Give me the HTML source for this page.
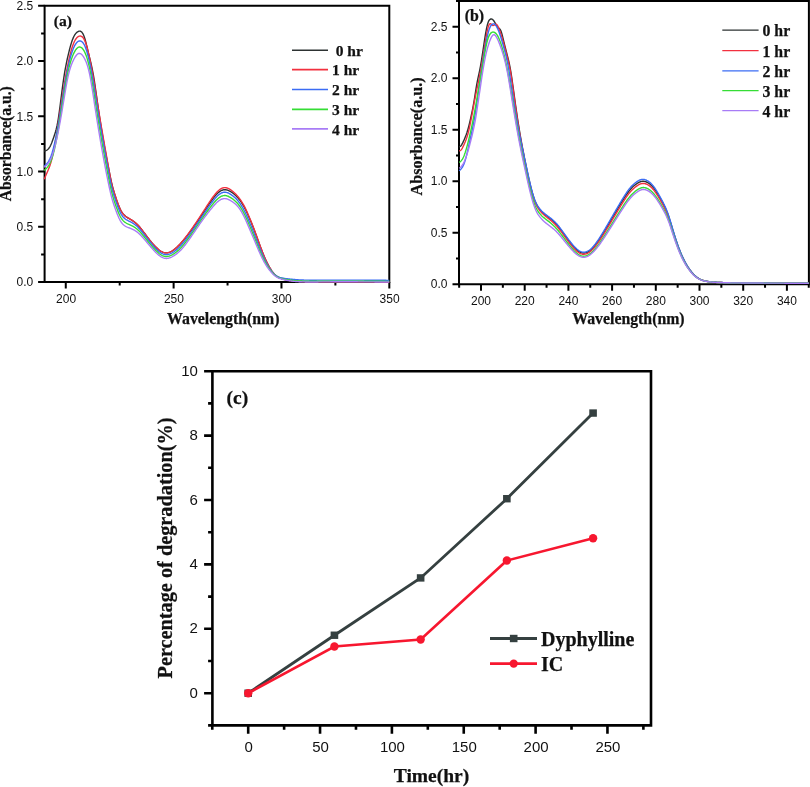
<!DOCTYPE html>
<html><head><meta charset="utf-8"><title>chart</title>
<style>html,body{margin:0;padding:0;background:#fff;} svg{display:block;will-change:transform;}</style></head>
<body><svg width="810" height="787" viewBox="0 0 810 787">
<rect width="810" height="787" fill="#fff"/>
<g stroke="#000" stroke-width="2" fill="none" stroke-linecap="square">
<path d="M44.6,5.8 H389.3 V282.1 H44.6 Z"/>
</g>
<path d="M38.10,282.10 H44.6 M41.10,254.48 H44.6 M38.10,226.85 H44.6 M41.10,199.23 H44.6 M38.10,171.60 H44.6 M41.10,143.98 H44.6 M38.10,116.35 H44.6 M41.10,88.73 H44.6 M38.10,61.10 H44.6 M41.10,33.48 H44.6 M38.10,5.85 H44.6 M65.77,282.1 V288.60 M119.70,282.1 V285.60 M173.62,282.1 V288.60 M227.55,282.1 V285.60 M281.47,282.1 V288.60 M335.39,282.1 V285.60 M389.32,282.1 V288.60" stroke="#000" stroke-width="2" fill="none"/>
<g font-family="Liberation Sans, sans-serif" font-size="12" fill="#111" text-anchor="end">
<text x="33.3" y="286.40">0.0</text>
<text x="33.3" y="231.15">0.5</text>
<text x="33.3" y="175.90">1.0</text>
<text x="33.3" y="120.65">1.5</text>
<text x="33.3" y="65.40">2.0</text>
<text x="33.3" y="10.15">2.5</text>
</g>
<g font-family="Liberation Sans, sans-serif" font-size="12" fill="#111" text-anchor="middle">
<text x="66.07" y="302.8">200</text>
<text x="173.92" y="302.8">250</text>
<text x="281.77" y="302.8">300</text>
<text x="389.62" y="302.8">350</text>
</g>
<text font-family="Liberation Serif, serif" font-weight="bold" stroke="#111" stroke-width="0.25" font-size="15.8" x="223.25" y="323.7" text-anchor="middle" fill="#111">Wavelength(nm)</text>
<text font-family="Liberation Serif, serif" font-weight="bold" stroke="#111" stroke-width="0.25" font-size="15.7" transform="translate(10.7,143.7) rotate(-90)" text-anchor="middle" fill="#111">Absorbance(a.u.)</text>
<text font-family="Liberation Serif, serif" font-weight="bold" stroke="#111" stroke-width="0.25" font-size="15.6" x="53.8" y="25.7" fill="#111">(a)</text>
<g fill="none" stroke-width="1.4" stroke-linejoin="round">
<path d="M44.20,151.14 L44.74,150.98 L45.28,150.81 L45.82,150.62 L46.36,150.38 L46.90,150.08 L47.44,149.71 L47.97,149.26 L48.51,148.71 L49.05,148.05 L49.59,147.26 L50.13,146.33 L50.67,145.26 L51.21,144.05 L51.75,142.73 L52.29,141.32 L52.83,139.83 L53.37,138.28 L53.91,136.69 L54.45,135.08 L54.98,133.42 L55.52,131.65 L56.06,129.72 L56.60,127.57 L57.14,125.15 L57.68,122.40 L58.22,119.26 L58.76,115.71 L59.30,111.82 L59.84,107.72 L60.38,103.50 L60.92,99.26 L61.46,95.03 L62.00,90.86 L62.53,86.78 L63.07,82.84 L63.61,79.08 L64.15,75.53 L64.69,72.23 L65.23,69.14 L65.77,66.26 L66.31,63.54 L66.85,60.96 L67.39,58.51 L67.93,56.15 L68.47,53.85 L69.01,51.63 L69.54,49.48 L70.08,47.42 L70.62,45.47 L71.16,43.63 L71.70,41.91 L72.24,40.34 L72.78,38.92 L73.32,37.64 L73.86,36.49 L74.40,35.48 L74.94,34.60 L75.48,33.83 L76.02,33.17 L76.56,32.62 L77.09,32.16 L77.63,31.79 L78.17,31.50 L78.71,31.30 L79.25,31.17 L79.79,31.15 L80.33,31.24 L80.87,31.47 L81.41,31.84 L81.95,32.37 L82.49,33.07 L83.03,33.97 L83.57,35.07 L84.10,36.39 L84.64,37.94 L85.18,39.73 L85.72,41.71 L86.26,43.85 L86.80,46.08 L87.34,48.38 L87.88,50.69 L88.42,52.97 L88.96,55.19 L89.50,57.37 L90.04,59.54 L90.58,61.75 L91.11,64.02 L91.65,66.40 L92.19,68.91 L92.73,71.59 L93.27,74.47 L93.81,77.60 L94.35,80.96 L94.89,84.52 L95.43,88.23 L95.97,92.05 L96.51,95.92 L97.05,99.81 L97.59,103.67 L98.12,107.44 L98.66,111.14 L99.20,114.75 L99.74,118.28 L100.28,121.73 L100.82,125.12 L101.36,128.44 L101.90,131.69 L102.44,134.88 L102.98,138.02 L103.52,141.11 L104.06,144.14 L104.60,147.14 L105.14,150.09 L105.67,153.00 L106.21,155.88 L106.75,158.73 L107.29,161.55 L107.83,164.35 L108.37,167.13 L108.91,169.90 L109.45,172.65 L109.99,175.36 L110.53,177.99 L111.07,180.48 L111.61,182.82 L112.15,185.03 L112.68,187.13 L113.22,189.12 L113.76,191.02 L114.30,192.85 L114.84,194.61 L115.38,196.33 L115.92,198.00 L116.46,199.63 L117.00,201.20 L117.54,202.72 L118.08,204.17 L118.62,205.55 L119.16,206.85 L119.70,208.07 L120.23,209.21 L120.77,210.25 L121.31,211.20 L121.85,212.07 L122.39,212.87 L122.93,213.59 L123.47,214.24 L124.01,214.83 L124.55,215.37 L125.09,215.86 L125.63,216.31 L126.17,216.72 L126.71,217.10 L127.24,217.46 L127.78,217.79 L128.32,218.11 L128.86,218.43 L129.40,218.74 L129.94,219.05 L130.48,219.37 L131.02,219.69 L131.56,220.03 L132.10,220.37 L132.64,220.73 L133.18,221.09 L133.72,221.48 L134.25,221.88 L134.79,222.29 L135.33,222.73 L135.87,223.18 L136.41,223.66 L136.95,224.16 L137.49,224.69 L138.03,225.24 L138.57,225.82 L139.11,226.42 L139.65,227.04 L140.19,227.68 L140.73,228.34 L141.26,229.01 L141.80,229.70 L142.34,230.40 L142.88,231.11 L143.42,231.83 L143.96,232.55 L144.50,233.27 L145.04,234.00 L145.58,234.72 L146.12,235.44 L146.66,236.16 L147.20,236.88 L147.74,237.58 L148.28,238.29 L148.81,238.98 L149.35,239.67 L149.89,240.35 L150.43,241.02 L150.97,241.68 L151.51,242.33 L152.05,242.97 L152.59,243.60 L153.13,244.22 L153.67,244.82 L154.21,245.41 L154.75,245.98 L155.29,246.54 L155.82,247.08 L156.36,247.61 L156.90,248.12 L157.44,248.61 L157.98,249.08 L158.52,249.52 L159.06,249.95 L159.60,250.35 L160.14,250.73 L160.68,251.08 L161.22,251.40 L161.76,251.69 L162.30,251.96 L162.84,252.19 L163.37,252.39 L163.91,252.56 L164.45,252.69 L164.99,252.79 L165.53,252.85 L166.07,252.87 L166.61,252.86 L167.15,252.81 L167.69,252.73 L168.23,252.62 L168.77,252.48 L169.31,252.31 L169.85,252.11 L170.38,251.88 L170.92,251.62 L171.46,251.34 L172.00,251.04 L172.54,250.71 L173.08,250.36 L173.62,249.98 L174.16,249.59 L174.70,249.18 L175.24,248.74 L175.78,248.29 L176.32,247.82 L176.86,247.34 L177.39,246.83 L177.93,246.32 L178.47,245.78 L179.01,245.24 L179.55,244.68 L180.09,244.11 L180.63,243.53 L181.17,242.93 L181.71,242.33 L182.25,241.71 L182.79,241.09 L183.33,240.45 L183.87,239.81 L184.41,239.15 L184.94,238.49 L185.48,237.82 L186.02,237.14 L186.56,236.45 L187.10,235.76 L187.64,235.06 L188.18,234.35 L188.72,233.64 L189.26,232.92 L189.80,232.20 L190.34,231.47 L190.88,230.73 L191.42,229.99 L191.95,229.25 L192.49,228.50 L193.03,227.75 L193.57,227.00 L194.11,226.24 L194.65,225.47 L195.19,224.70 L195.73,223.93 L196.27,223.15 L196.81,222.37 L197.35,221.59 L197.89,220.80 L198.43,220.01 L198.96,219.22 L199.50,218.42 L200.04,217.62 L200.58,216.82 L201.12,216.01 L201.66,215.20 L202.20,214.39 L202.74,213.58 L203.28,212.76 L203.82,211.94 L204.36,211.12 L204.90,210.30 L205.44,209.48 L205.98,208.67 L206.51,207.85 L207.05,207.04 L207.59,206.23 L208.13,205.43 L208.67,204.64 L209.21,203.85 L209.75,203.07 L210.29,202.29 L210.83,201.53 L211.37,200.77 L211.91,200.03 L212.45,199.30 L212.99,198.58 L213.52,197.88 L214.06,197.19 L214.60,196.52 L215.14,195.87 L215.68,195.24 L216.22,194.64 L216.76,194.07 L217.30,193.52 L217.84,193.01 L218.38,192.53 L218.92,192.09 L219.46,191.68 L220.00,191.32 L220.53,190.99 L221.07,190.69 L221.61,190.44 L222.15,190.22 L222.69,190.05 L223.23,189.91 L223.77,189.81 L224.31,189.74 L224.85,189.72 L225.39,189.73 L225.93,189.78 L226.47,189.87 L227.01,190.00 L227.55,190.16 L228.08,190.35 L228.62,190.57 L229.16,190.81 L229.70,191.09 L230.24,191.39 L230.78,191.71 L231.32,192.05 L231.86,192.42 L232.40,192.80 L232.94,193.20 L233.48,193.62 L234.02,194.06 L234.56,194.52 L235.09,195.00 L235.63,195.51 L236.17,196.03 L236.71,196.58 L237.25,197.16 L237.79,197.76 L238.33,198.38 L238.87,199.03 L239.41,199.70 L239.95,200.41 L240.49,201.14 L241.03,201.90 L241.57,202.70 L242.10,203.52 L242.64,204.38 L243.18,205.28 L243.72,206.21 L244.26,207.18 L244.80,208.18 L245.34,209.23 L245.88,210.31 L246.42,211.42 L246.96,212.57 L247.50,213.74 L248.04,214.94 L248.58,216.16 L249.12,217.41 L249.65,218.67 L250.19,219.95 L250.73,221.25 L251.27,222.56 L251.81,223.88 L252.35,225.22 L252.89,226.58 L253.43,227.96 L253.97,229.35 L254.51,230.77 L255.05,232.20 L255.59,233.65 L256.13,235.11 L256.66,236.58 L257.20,238.07 L257.74,239.55 L258.28,241.04 L258.82,242.52 L259.36,244.00 L259.90,245.47 L260.44,246.93 L260.98,248.37 L261.52,249.79 L262.06,251.19 L262.60,252.57 L263.14,253.92 L263.67,255.24 L264.21,256.53 L264.75,257.78 L265.29,259.00 L265.83,260.18 L266.37,261.33 L266.91,262.44 L267.45,263.52 L267.99,264.56 L268.53,265.57 L269.07,266.54 L269.61,267.48 L270.15,268.38 L270.69,269.24 L271.22,270.07 L271.76,270.87 L272.30,271.62 L272.84,272.33 L273.38,273.01 L273.92,273.64 L274.46,274.23 L275.00,274.78 L275.54,275.28 L276.08,275.74 L276.62,276.16 L277.16,276.55 L277.70,276.90 L278.23,277.22 L278.77,277.52 L279.31,277.78 L279.85,278.02 L280.39,278.25 L280.93,278.45 L281.47,278.64 L282.01,278.81 L282.55,278.97 L283.09,279.13 L283.63,279.28 L284.17,279.42 L284.71,279.55 L285.24,279.68 L285.78,279.80 L286.32,279.92 L286.86,280.03 L287.40,280.14 L287.94,280.24 L288.48,280.33 L289.02,280.42 L289.56,280.50 L290.10,280.58 L290.64,280.66 L291.18,280.73 L291.72,280.80 L292.25,280.86 L292.79,280.93 L293.33,280.98 L293.87,281.04 L294.41,281.09 L294.95,281.14 L295.49,281.18 L296.03,281.23 L296.57,281.27 L297.11,281.31 L297.65,281.35 L298.19,281.38 L298.73,281.41 L299.27,281.45 L299.80,281.48 L300.34,281.51 L300.88,281.53 L301.42,281.56 L301.96,281.58 L302.50,281.60 L303.04,281.62 L303.58,281.64 L304.12,281.66 L304.66,281.67 L305.20,281.69 L305.74,281.70 L306.28,281.71 L306.81,281.73 L307.35,281.74 L307.89,281.74 L308.43,281.75 L308.97,281.76 L309.51,281.76 L310.05,281.77 L310.59,281.77 L311.13,281.78 L311.67,281.78 L312.21,281.78 L312.75,281.78 L313.29,281.78 L313.82,281.79 L314.36,281.79 L314.90,281.78 L315.44,281.78 L315.98,281.78 L316.52,281.78 L317.06,281.78 L317.60,281.78 L318.14,281.78 L318.68,281.77 L319.22,281.77 L319.76,281.77 L320.30,281.77 L320.84,281.77 L321.37,281.76 L321.91,281.76 L322.45,281.76 L322.99,281.76 L323.53,281.76 L324.07,281.76 L324.61,281.75 L325.15,281.75 L325.69,281.75 L326.23,281.75 L326.77,281.75 L327.31,281.75 L327.85,281.75 L328.38,281.75 L328.92,281.75 L329.46,281.75 L330.00,281.75 L330.54,281.75 L331.08,281.75 L331.62,281.74 L332.16,281.74 L332.70,281.74 L333.24,281.74 L333.78,281.74 L334.32,281.74 L334.86,281.74 L335.39,281.74 L335.93,281.74 L336.47,281.75 L337.01,281.75 L337.55,281.75 L338.09,281.75 L338.63,281.75 L339.17,281.75 L339.71,281.75 L340.25,281.75 L340.79,281.75 L341.33,281.75 L341.87,281.75 L342.41,281.75 L342.94,281.75 L343.48,281.76 L344.02,281.76 L344.56,281.76 L345.10,281.76 L345.64,281.76 L346.18,281.76 L346.72,281.76 L347.26,281.76 L347.80,281.77 L348.34,281.77 L348.88,281.77 L349.42,281.77 L349.95,281.77 L350.49,281.77 L351.03,281.78 L351.57,281.78 L352.11,281.78 L352.65,281.78 L353.19,281.78 L353.73,281.79 L354.27,281.79 L354.81,281.79 L355.35,281.79 L355.89,281.80 L356.43,281.80 L356.96,281.80 L357.50,281.80 L358.04,281.80 L358.58,281.81 L359.12,281.81 L359.66,281.81 L360.20,281.81 L360.74,281.82 L361.28,281.82 L361.82,281.82 L362.36,281.83 L362.90,281.83 L363.44,281.83 L363.98,281.83 L364.51,281.84 L365.05,281.84 L365.59,281.84 L366.13,281.85 L366.67,281.85 L367.21,281.85 L367.75,281.85 L368.29,281.86 L368.83,281.86 L369.37,281.86 L369.91,281.87 L370.45,281.87 L370.99,281.87 L371.52,281.88 L372.06,281.88 L372.60,281.88 L373.14,281.89 L373.68,281.89 L374.22,281.89 L374.76,281.90 L375.30,281.90 L375.84,281.90 L376.38,281.91 L376.92,281.91 L377.46,281.91 L378.00,281.92 L378.53,281.92 L379.07,281.92 L379.61,281.93 L380.15,281.93 L380.69,281.93 L381.23,281.94 L381.77,281.94 L382.31,281.94 L382.85,281.95 L383.39,281.95 L383.93,281.95 L384.47,281.96 L385.01,281.96 L385.55,281.96 L386.08,281.97 L386.62,281.97 L387.16,281.98 L387.70,281.98 L388.24,281.98 L388.78,281.99 L389.32,281.99" stroke="#2d3232"/>
<path d="M44.20,179.33 L44.74,178.08 L45.28,176.82 L45.82,175.56 L46.36,174.30 L46.90,173.04 L47.44,171.78 L47.97,170.52 L48.51,169.23 L49.05,167.88 L49.59,166.45 L50.13,164.90 L50.67,163.21 L51.21,161.34 L51.75,159.29 L52.29,157.06 L52.83,154.66 L53.37,152.10 L53.91,149.40 L54.45,146.56 L54.98,143.59 L55.52,140.51 L56.06,137.33 L56.60,134.07 L57.14,130.72 L57.68,127.30 L58.22,123.83 L58.76,120.32 L59.30,116.77 L59.84,113.20 L60.38,109.62 L60.92,106.04 L61.46,102.47 L62.00,98.92 L62.53,95.41 L63.07,91.94 L63.61,88.53 L64.15,85.19 L64.69,81.93 L65.23,78.75 L65.77,75.67 L66.31,72.68 L66.85,69.80 L67.39,67.01 L67.93,64.32 L68.47,61.75 L69.01,59.28 L69.54,56.93 L70.08,54.69 L70.62,52.57 L71.16,50.59 L71.70,48.73 L72.24,47.00 L72.78,45.42 L73.32,43.98 L73.86,42.67 L74.40,41.50 L74.94,40.46 L75.48,39.55 L76.02,38.75 L76.56,38.06 L77.09,37.49 L77.63,37.02 L78.17,36.65 L78.71,36.37 L79.25,36.18 L79.79,36.07 L80.33,36.06 L80.87,36.14 L81.41,36.34 L81.95,36.65 L82.49,37.10 L83.03,37.68 L83.57,38.42 L84.10,39.32 L84.64,40.38 L85.18,41.63 L85.72,43.07 L86.26,44.70 L86.80,46.51 L87.34,48.48 L87.88,50.59 L88.42,52.84 L88.96,55.21 L89.50,57.68 L90.04,60.23 L90.58,62.87 L91.11,65.58 L91.65,68.37 L92.19,71.24 L92.73,74.19 L93.27,77.23 L93.81,80.36 L94.35,83.58 L94.89,86.88 L95.43,90.25 L95.97,93.65 L96.51,97.08 L97.05,100.51 L97.59,103.92 L98.12,107.29 L98.66,110.63 L99.20,113.92 L99.74,117.17 L100.28,120.39 L100.82,123.58 L101.36,126.75 L101.90,129.88 L102.44,132.99 L102.98,136.08 L103.52,139.16 L104.06,142.21 L104.60,145.26 L105.14,148.29 L105.67,151.32 L106.21,154.33 L106.75,157.35 L107.29,160.37 L107.83,163.39 L108.37,166.41 L108.91,169.44 L109.45,172.48 L109.99,175.48 L110.53,178.34 L111.07,180.97 L111.61,183.37 L112.15,185.56 L112.68,187.58 L113.22,189.46 L113.76,191.22 L114.30,192.91 L114.84,194.55 L115.38,196.17 L115.92,197.78 L116.46,199.39 L117.00,200.96 L117.54,202.50 L118.08,204.00 L118.62,205.43 L119.16,206.80 L119.70,208.08 L120.23,209.27 L120.77,210.36 L121.31,211.35 L121.85,212.24 L122.39,213.05 L122.93,213.78 L123.47,214.43 L124.01,215.02 L124.55,215.55 L125.09,216.02 L125.63,216.45 L126.17,216.84 L126.71,217.19 L127.24,217.52 L127.78,217.83 L128.32,218.13 L128.86,218.42 L129.40,218.71 L129.94,219.01 L130.48,219.31 L131.02,219.63 L131.56,219.96 L132.10,220.30 L132.64,220.65 L133.18,221.02 L133.72,221.41 L134.25,221.81 L134.79,222.23 L135.33,222.67 L135.87,223.14 L136.41,223.62 L136.95,224.13 L137.49,224.66 L138.03,225.22 L138.57,225.80 L139.11,226.41 L139.65,227.04 L140.19,227.68 L140.73,228.34 L141.26,229.02 L141.80,229.71 L142.34,230.41 L142.88,231.12 L143.42,231.83 L143.96,232.56 L144.50,233.28 L145.04,234.01 L145.58,234.73 L146.12,235.45 L146.66,236.17 L147.20,236.88 L147.74,237.59 L148.28,238.29 L148.81,238.98 L149.35,239.67 L149.89,240.35 L150.43,241.02 L150.97,241.68 L151.51,242.33 L152.05,242.97 L152.59,243.59 L153.13,244.21 L153.67,244.81 L154.21,245.40 L154.75,245.97 L155.29,246.53 L155.82,247.08 L156.36,247.61 L156.90,248.12 L157.44,248.61 L157.98,249.08 L158.52,249.53 L159.06,249.96 L159.60,250.36 L160.14,250.74 L160.68,251.10 L161.22,251.42 L161.76,251.71 L162.30,251.98 L162.84,252.21 L163.37,252.41 L163.91,252.58 L164.45,252.71 L164.99,252.80 L165.53,252.86 L166.07,252.88 L166.61,252.86 L167.15,252.80 L167.69,252.72 L168.23,252.60 L168.77,252.45 L169.31,252.27 L169.85,252.06 L170.38,251.82 L170.92,251.55 L171.46,251.26 L172.00,250.95 L172.54,250.61 L173.08,250.24 L173.62,249.86 L174.16,249.46 L174.70,249.03 L175.24,248.59 L175.78,248.13 L176.32,247.65 L176.86,247.15 L177.39,246.64 L177.93,246.11 L178.47,245.57 L179.01,245.01 L179.55,244.44 L180.09,243.86 L180.63,243.26 L181.17,242.65 L181.71,242.03 L182.25,241.41 L182.79,240.77 L183.33,240.12 L183.87,239.45 L184.41,238.79 L184.94,238.11 L185.48,237.42 L186.02,236.72 L186.56,236.02 L187.10,235.31 L187.64,234.59 L188.18,233.86 L188.72,233.13 L189.26,232.39 L189.80,231.65 L190.34,230.90 L190.88,230.15 L191.42,229.39 L191.95,228.62 L192.49,227.85 L193.03,227.08 L193.57,226.30 L194.11,225.52 L194.65,224.73 L195.19,223.94 L195.73,223.14 L196.27,222.35 L196.81,221.54 L197.35,220.73 L197.89,219.92 L198.43,219.11 L198.96,218.29 L199.50,217.47 L200.04,216.65 L200.58,215.82 L201.12,214.99 L201.66,214.15 L202.20,213.32 L202.74,212.48 L203.28,211.63 L203.82,210.79 L204.36,209.95 L204.90,209.10 L205.44,208.26 L205.98,207.42 L206.51,206.58 L207.05,205.74 L207.59,204.91 L208.13,204.08 L208.67,203.26 L209.21,202.45 L209.75,201.64 L210.29,200.84 L210.83,200.05 L211.37,199.27 L211.91,198.51 L212.45,197.75 L212.99,197.00 L213.52,196.27 L214.06,195.56 L214.60,194.86 L215.14,194.19 L215.68,193.53 L216.22,192.90 L216.76,192.30 L217.30,191.73 L217.84,191.19 L218.38,190.68 L218.92,190.21 L219.46,189.78 L220.00,189.38 L220.53,189.02 L221.07,188.70 L221.61,188.42 L222.15,188.18 L222.69,187.99 L223.23,187.83 L223.77,187.72 L224.31,187.65 L224.85,187.62 L225.39,187.64 L225.93,187.71 L226.47,187.81 L227.01,187.96 L227.55,188.14 L228.08,188.36 L228.62,188.62 L229.16,188.90 L229.70,189.21 L230.24,189.55 L230.78,189.91 L231.32,190.29 L231.86,190.70 L232.40,191.11 L232.94,191.55 L233.48,192.00 L234.02,192.48 L234.56,192.97 L235.09,193.48 L235.63,194.02 L236.17,194.57 L236.71,195.15 L237.25,195.75 L237.79,196.37 L238.33,197.03 L238.87,197.70 L239.41,198.40 L239.95,199.13 L240.49,199.89 L241.03,200.69 L241.57,201.51 L242.10,202.36 L242.64,203.25 L243.18,204.18 L243.72,205.14 L244.26,206.15 L244.80,207.19 L245.34,208.27 L245.88,209.39 L246.42,210.54 L246.96,211.72 L247.50,212.93 L248.04,214.17 L248.58,215.43 L249.12,216.71 L249.65,218.00 L250.19,219.31 L250.73,220.63 L251.27,221.96 L251.81,223.31 L252.35,224.67 L252.89,226.05 L253.43,227.44 L253.97,228.85 L254.51,230.28 L255.05,231.73 L255.59,233.20 L256.13,234.69 L256.66,236.19 L257.20,237.69 L257.74,239.20 L258.28,240.71 L258.82,242.22 L259.36,243.72 L259.90,245.21 L260.44,246.69 L260.98,248.15 L261.52,249.59 L262.06,251.01 L262.60,252.41 L263.14,253.77 L263.67,255.11 L264.21,256.40 L264.75,257.67 L265.29,258.89 L265.83,260.08 L266.37,261.23 L266.91,262.35 L267.45,263.43 L267.99,264.48 L268.53,265.49 L269.07,266.47 L269.61,267.41 L270.15,268.32 L270.69,269.20 L271.22,270.03 L271.76,270.83 L272.30,271.59 L272.84,272.32 L273.38,273.00 L273.92,273.64 L274.46,274.23 L275.00,274.78 L275.54,275.29 L276.08,275.75 L276.62,276.18 L277.16,276.56 L277.70,276.91 L278.23,277.23 L278.77,277.52 L279.31,277.79 L279.85,278.03 L280.39,278.24 L280.93,278.44 L281.47,278.63 L282.01,278.80 L282.55,278.96 L283.09,279.11 L283.63,279.26 L284.17,279.40 L284.71,279.53 L285.24,279.66 L285.78,279.78 L286.32,279.90 L286.86,280.01 L287.40,280.11 L287.94,280.21 L288.48,280.31 L289.02,280.40 L289.56,280.48 L290.10,280.57 L290.64,280.64 L291.18,280.72 L291.72,280.79 L292.25,280.85 L292.79,280.91 L293.33,280.97 L293.87,281.03 L294.41,281.08 L294.95,281.13 L295.49,281.18 L296.03,281.23 L296.57,281.27 L297.11,281.31 L297.65,281.35 L298.19,281.39 L298.73,281.42 L299.27,281.45 L299.80,281.48 L300.34,281.51 L300.88,281.54 L301.42,281.57 L301.96,281.59 L302.50,281.61 L303.04,281.63 L303.58,281.65 L304.12,281.67 L304.66,281.69 L305.20,281.70 L305.74,281.71 L306.28,281.73 L306.81,281.74 L307.35,281.75 L307.89,281.76 L308.43,281.76 L308.97,281.77 L309.51,281.78 L310.05,281.78 L310.59,281.78 L311.13,281.79 L311.67,281.79 L312.21,281.79 L312.75,281.79 L313.29,281.79 L313.82,281.79 L314.36,281.79 L314.90,281.79 L315.44,281.79 L315.98,281.79 L316.52,281.78 L317.06,281.78 L317.60,281.78 L318.14,281.78 L318.68,281.77 L319.22,281.77 L319.76,281.77 L320.30,281.77 L320.84,281.76 L321.37,281.76 L321.91,281.76 L322.45,281.76 L322.99,281.76 L323.53,281.75 L324.07,281.75 L324.61,281.75 L325.15,281.75 L325.69,281.75 L326.23,281.75 L326.77,281.74 L327.31,281.74 L327.85,281.74 L328.38,281.74 L328.92,281.74 L329.46,281.74 L330.00,281.74 L330.54,281.74 L331.08,281.74 L331.62,281.73 L332.16,281.73 L332.70,281.73 L333.24,281.73 L333.78,281.73 L334.32,281.73 L334.86,281.73 L335.39,281.73 L335.93,281.73 L336.47,281.73 L337.01,281.73 L337.55,281.73 L338.09,281.73 L338.63,281.73 L339.17,281.73 L339.71,281.74 L340.25,281.74 L340.79,281.74 L341.33,281.74 L341.87,281.74 L342.41,281.74 L342.94,281.74 L343.48,281.74 L344.02,281.74 L344.56,281.74 L345.10,281.74 L345.64,281.75 L346.18,281.75 L346.72,281.75 L347.26,281.75 L347.80,281.75 L348.34,281.75 L348.88,281.75 L349.42,281.76 L349.95,281.76 L350.49,281.76 L351.03,281.76 L351.57,281.76 L352.11,281.77 L352.65,281.77 L353.19,281.77 L353.73,281.77 L354.27,281.77 L354.81,281.78 L355.35,281.78 L355.89,281.78 L356.43,281.78 L356.96,281.79 L357.50,281.79 L358.04,281.79 L358.58,281.79 L359.12,281.80 L359.66,281.80 L360.20,281.80 L360.74,281.80 L361.28,281.81 L361.82,281.81 L362.36,281.81 L362.90,281.82 L363.44,281.82 L363.98,281.82 L364.51,281.82 L365.05,281.83 L365.59,281.83 L366.13,281.83 L366.67,281.84 L367.21,281.84 L367.75,281.84 L368.29,281.85 L368.83,281.85 L369.37,281.85 L369.91,281.86 L370.45,281.86 L370.99,281.86 L371.52,281.87 L372.06,281.87 L372.60,281.87 L373.14,281.88 L373.68,281.88 L374.22,281.88 L374.76,281.89 L375.30,281.89 L375.84,281.89 L376.38,281.90 L376.92,281.90 L377.46,281.91 L378.00,281.91 L378.53,281.91 L379.07,281.92 L379.61,281.92 L380.15,281.92 L380.69,281.93 L381.23,281.93 L381.77,281.94 L382.31,281.94 L382.85,281.94 L383.39,281.95 L383.93,281.95 L384.47,281.95 L385.01,281.96 L385.55,281.96 L386.08,281.97 L386.62,281.97 L387.16,281.97 L387.70,281.98 L388.24,281.98 L388.78,281.99 L389.32,281.99" stroke="#f2303f"/>
<path d="M44.20,166.15 L44.74,165.67 L45.28,165.17 L45.82,164.65 L46.36,164.10 L46.90,163.49 L47.44,162.83 L47.97,162.09 L48.51,161.27 L49.05,160.36 L49.59,159.33 L50.13,158.19 L50.67,156.92 L51.21,155.50 L51.75,153.93 L52.29,152.22 L52.83,150.36 L53.37,148.37 L53.91,146.25 L54.45,144.01 L54.98,141.64 L55.52,139.17 L56.06,136.58 L56.60,133.90 L57.14,131.11 L57.68,128.23 L58.22,125.26 L58.76,122.20 L59.30,119.06 L59.84,115.85 L60.38,112.56 L60.92,109.21 L61.46,105.81 L62.00,102.39 L62.53,98.96 L63.07,95.55 L63.61,92.17 L64.15,88.84 L64.69,85.57 L65.23,82.37 L65.77,79.27 L66.31,76.26 L66.85,73.36 L67.39,70.58 L67.93,67.92 L68.47,65.39 L69.01,63.00 L69.54,60.74 L70.08,58.62 L70.62,56.62 L71.16,54.76 L71.70,53.03 L72.24,51.42 L72.78,49.93 L73.32,48.57 L73.86,47.33 L74.40,46.20 L74.94,45.19 L75.48,44.29 L76.02,43.50 L76.56,42.82 L77.09,42.25 L77.63,41.78 L78.17,41.42 L78.71,41.15 L79.25,40.98 L79.79,40.92 L80.33,40.95 L80.87,41.10 L81.41,41.35 L81.95,41.72 L82.49,42.21 L83.03,42.83 L83.57,43.59 L84.10,44.50 L84.64,45.55 L85.18,46.76 L85.72,48.13 L86.26,49.67 L86.80,51.36 L87.34,53.22 L87.88,55.23 L88.42,57.39 L88.96,59.70 L89.50,62.15 L90.04,64.72 L90.58,67.41 L91.11,70.22 L91.65,73.13 L92.19,76.14 L92.73,79.24 L93.27,82.42 L93.81,85.68 L94.35,88.99 L94.89,92.35 L95.43,95.75 L95.97,99.17 L96.51,102.59 L97.05,106.00 L97.59,109.39 L98.12,112.76 L98.66,116.09 L99.20,119.38 L99.74,122.63 L100.28,125.85 L100.82,129.03 L101.36,132.18 L101.90,135.29 L102.44,138.38 L102.98,141.44 L103.52,144.48 L104.06,147.49 L104.60,150.49 L105.14,153.47 L105.67,156.44 L106.21,159.40 L106.75,162.35 L107.29,165.30 L107.83,168.23 L108.37,171.15 L108.91,174.03 L109.45,176.87 L109.99,179.61 L110.53,182.24 L111.07,184.74 L111.61,187.07 L112.15,189.24 L112.68,191.27 L113.22,193.16 L113.76,194.95 L114.30,196.65 L114.84,198.29 L115.38,199.89 L115.92,201.45 L116.46,202.99 L117.00,204.50 L117.54,205.96 L118.08,207.38 L118.62,208.75 L119.16,210.04 L119.70,211.26 L120.23,212.39 L120.77,213.43 L121.31,214.37 L121.85,215.23 L122.39,216.01 L122.93,216.70 L123.47,217.33 L124.01,217.88 L124.55,218.38 L125.09,218.82 L125.63,219.22 L126.17,219.58 L126.71,219.91 L127.24,220.22 L127.78,220.50 L128.32,220.78 L128.86,221.05 L129.40,221.31 L129.94,221.59 L130.48,221.86 L131.02,222.15 L131.56,222.45 L132.10,222.76 L132.64,223.08 L133.18,223.42 L133.72,223.78 L134.25,224.15 L134.79,224.54 L135.33,224.95 L135.87,225.38 L136.41,225.84 L136.95,226.31 L137.49,226.81 L138.03,227.34 L138.57,227.89 L139.11,228.46 L139.65,229.05 L140.19,229.66 L140.73,230.29 L141.26,230.93 L141.80,231.59 L142.34,232.26 L142.88,232.94 L143.42,233.63 L143.96,234.32 L144.50,235.02 L145.04,235.72 L145.58,236.42 L146.12,237.12 L146.66,237.81 L147.20,238.51 L147.74,239.20 L148.28,239.88 L148.81,240.56 L149.35,241.24 L149.89,241.90 L150.43,242.56 L150.97,243.22 L151.51,243.86 L152.05,244.50 L152.59,245.12 L153.13,245.74 L153.67,246.35 L154.21,246.94 L154.75,247.52 L155.29,248.09 L155.82,248.65 L156.36,249.18 L156.90,249.70 L157.44,250.20 L157.98,250.69 L158.52,251.15 L159.06,251.59 L159.60,252.00 L160.14,252.39 L160.68,252.76 L161.22,253.09 L161.76,253.40 L162.30,253.68 L162.84,253.93 L163.37,254.14 L163.91,254.31 L164.45,254.46 L164.99,254.56 L165.53,254.63 L166.07,254.66 L166.61,254.66 L167.15,254.62 L167.69,254.54 L168.23,254.44 L168.77,254.30 L169.31,254.14 L169.85,253.95 L170.38,253.73 L170.92,253.48 L171.46,253.21 L172.00,252.92 L172.54,252.61 L173.08,252.28 L173.62,251.93 L174.16,251.56 L174.70,251.17 L175.24,250.77 L175.78,250.35 L176.32,249.91 L176.86,249.45 L177.39,248.98 L177.93,248.49 L178.47,247.99 L179.01,247.47 L179.55,246.93 L180.09,246.38 L180.63,245.81 L181.17,245.23 L181.71,244.64 L182.25,244.03 L182.79,243.40 L183.33,242.77 L183.87,242.12 L184.41,241.46 L184.94,240.79 L185.48,240.11 L186.02,239.41 L186.56,238.71 L187.10,238.01 L187.64,237.29 L188.18,236.57 L188.72,235.84 L189.26,235.10 L189.80,234.36 L190.34,233.61 L190.88,232.86 L191.42,232.10 L191.95,231.34 L192.49,230.58 L193.03,229.81 L193.57,229.04 L194.11,228.27 L194.65,227.49 L195.19,226.71 L195.73,225.93 L196.27,225.15 L196.81,224.36 L197.35,223.57 L197.89,222.79 L198.43,221.99 L198.96,221.20 L199.50,220.40 L200.04,219.61 L200.58,218.80 L201.12,218.00 L201.66,217.20 L202.20,216.39 L202.74,215.59 L203.28,214.78 L203.82,213.98 L204.36,213.18 L204.90,212.38 L205.44,211.59 L205.98,210.80 L206.51,210.01 L207.05,209.23 L207.59,208.45 L208.13,207.68 L208.67,206.91 L209.21,206.15 L209.75,205.40 L210.29,204.65 L210.83,203.91 L211.37,203.18 L211.91,202.46 L212.45,201.75 L212.99,201.05 L213.52,200.37 L214.06,199.70 L214.60,199.04 L215.14,198.40 L215.68,197.79 L216.22,197.19 L216.76,196.62 L217.30,196.08 L217.84,195.57 L218.38,195.09 L218.92,194.65 L219.46,194.23 L220.00,193.86 L220.53,193.52 L221.07,193.22 L221.61,192.96 L222.15,192.74 L222.69,192.55 L223.23,192.41 L223.77,192.31 L224.31,192.25 L224.85,192.24 L225.39,192.26 L225.93,192.33 L226.47,192.43 L227.01,192.58 L227.55,192.76 L228.08,192.97 L228.62,193.22 L229.16,193.49 L229.70,193.79 L230.24,194.11 L230.78,194.45 L231.32,194.81 L231.86,195.19 L232.40,195.59 L232.94,196.00 L233.48,196.42 L234.02,196.87 L234.56,197.33 L235.09,197.82 L235.63,198.33 L236.17,198.86 L236.71,199.42 L237.25,200.01 L237.79,200.63 L238.33,201.28 L238.87,201.96 L239.41,202.68 L239.95,203.42 L240.49,204.21 L241.03,205.03 L241.57,205.88 L242.10,206.77 L242.64,207.70 L243.18,208.67 L243.72,209.67 L244.26,210.71 L244.80,211.78 L245.34,212.89 L245.88,214.03 L246.42,215.20 L246.96,216.40 L247.50,217.62 L248.04,218.86 L248.58,220.12 L249.12,221.39 L249.65,222.68 L250.19,223.97 L250.73,225.27 L251.27,226.57 L251.81,227.89 L252.35,229.21 L252.89,230.54 L253.43,231.89 L253.97,233.24 L254.51,234.61 L255.05,235.99 L255.59,237.39 L256.13,238.79 L256.66,240.20 L257.20,241.62 L257.74,243.03 L258.28,244.44 L258.82,245.84 L259.36,247.23 L259.90,248.59 L260.44,249.94 L260.98,251.26 L261.52,252.56 L262.06,253.83 L262.60,255.08 L263.14,256.29 L263.67,257.48 L264.21,258.64 L264.75,259.76 L265.29,260.85 L265.83,261.91 L266.37,262.94 L266.91,263.93 L267.45,264.89 L267.99,265.81 L268.53,266.71 L269.07,267.56 L269.61,268.39 L270.15,269.19 L270.69,269.95 L271.22,270.68 L271.76,271.37 L272.30,272.03 L272.84,272.66 L273.38,273.24 L273.92,273.79 L274.46,274.30 L275.00,274.76 L275.54,275.19 L276.08,275.58 L276.62,275.93 L277.16,276.25 L277.70,276.53 L278.23,276.79 L278.77,277.01 L279.31,277.21 L279.85,277.40 L280.39,277.56 L280.93,277.70 L281.47,277.83 L282.01,277.95 L282.55,278.06 L283.09,278.16 L283.63,278.26 L284.17,278.35 L284.71,278.43 L285.24,278.52 L285.78,278.59 L286.32,278.67 L286.86,278.74 L287.40,278.80 L287.94,278.87 L288.48,278.93 L289.02,278.99 L289.56,279.04 L290.10,279.10 L290.64,279.15 L291.18,279.20 L291.72,279.25 L292.25,279.30 L292.79,279.35 L293.33,279.40 L293.87,279.45 L294.41,279.51 L294.95,279.56 L295.49,279.60 L296.03,279.65 L296.57,279.69 L297.11,279.73 L297.65,279.77 L298.19,279.81 L298.73,279.84 L299.27,279.87 L299.80,279.90 L300.34,279.93 L300.88,279.96 L301.42,279.98 L301.96,280.01 L302.50,280.03 L303.04,280.05 L303.58,280.07 L304.12,280.08 L304.66,280.10 L305.20,280.11 L305.74,280.12 L306.28,280.14 L306.81,280.15 L307.35,280.15 L307.89,280.16 L308.43,280.17 L308.97,280.17 L309.51,280.18 L310.05,280.18 L310.59,280.19 L311.13,280.19 L311.67,280.19 L312.21,280.19 L312.75,280.19 L313.29,280.19 L313.82,280.19 L314.36,280.19 L314.90,280.18 L315.44,280.18 L315.98,280.18 L316.52,280.18 L317.06,280.17 L317.60,280.17 L318.14,280.16 L318.68,280.16 L319.22,280.16 L319.76,280.15 L320.30,280.15 L320.84,280.15 L321.37,280.14 L321.91,280.14 L322.45,280.14 L322.99,280.13 L323.53,280.13 L324.07,280.13 L324.61,280.13 L325.15,280.12 L325.69,280.12 L326.23,280.12 L326.77,280.12 L327.31,280.12 L327.85,280.11 L328.38,280.11 L328.92,280.11 L329.46,280.11 L330.00,280.11 L330.54,280.11 L331.08,280.10 L331.62,280.10 L332.16,280.10 L332.70,280.10 L333.24,280.10 L333.78,280.10 L334.32,280.10 L334.86,280.10 L335.39,280.10 L335.93,280.10 L336.47,280.10 L337.01,280.10 L337.55,280.10 L338.09,280.10 L338.63,280.10 L339.17,280.10 L339.71,280.10 L340.25,280.10 L340.79,280.10 L341.33,280.10 L341.87,280.10 L342.41,280.10 L342.94,280.10 L343.48,280.10 L344.02,280.10 L344.56,280.10 L345.10,280.10 L345.64,280.10 L346.18,280.10 L346.72,280.10 L347.26,280.11 L347.80,280.11 L348.34,280.11 L348.88,280.11 L349.42,280.11 L349.95,280.11 L350.49,280.11 L351.03,280.12 L351.57,280.12 L352.11,280.12 L352.65,280.12 L353.19,280.12 L353.73,280.13 L354.27,280.13 L354.81,280.13 L355.35,280.13 L355.89,280.13 L356.43,280.14 L356.96,280.14 L357.50,280.14 L358.04,280.14 L358.58,280.15 L359.12,280.15 L359.66,280.15 L360.20,280.15 L360.74,280.16 L361.28,280.16 L361.82,280.16 L362.36,280.17 L362.90,280.17 L363.44,280.17 L363.98,280.17 L364.51,280.18 L365.05,280.18 L365.59,280.18 L366.13,280.19 L366.67,280.19 L367.21,280.19 L367.75,280.20 L368.29,280.20 L368.83,280.20 L369.37,280.21 L369.91,280.21 L370.45,280.21 L370.99,280.22 L371.52,280.22 L372.06,280.22 L372.60,280.23 L373.14,280.23 L373.68,280.24 L374.22,280.24 L374.76,280.24 L375.30,280.25 L375.84,280.25 L376.38,280.25 L376.92,280.26 L377.46,280.26 L378.00,280.27 L378.53,280.27 L379.07,280.27 L379.61,280.28 L380.15,280.28 L380.69,280.28 L381.23,280.29 L381.77,280.29 L382.31,280.30 L382.85,280.30 L383.39,280.30 L383.93,280.31 L384.47,280.31 L385.01,280.32 L385.55,280.32 L386.08,280.32 L386.62,280.33 L387.16,280.33 L387.70,280.34 L388.24,280.34 L388.78,280.34 L389.32,280.35" stroke="#3b6cf4"/>
<path d="M44.20,170.56 L44.74,170.07 L45.28,169.56 L45.82,169.04 L46.36,168.48 L46.90,167.88 L47.44,167.22 L47.97,166.50 L48.51,165.70 L49.05,164.82 L49.59,163.84 L50.13,162.76 L50.67,161.55 L51.21,160.22 L51.75,158.75 L52.29,157.14 L52.83,155.38 L53.37,153.48 L53.91,151.43 L54.45,149.23 L54.98,146.88 L55.52,144.36 L56.06,141.69 L56.60,138.87 L57.14,135.93 L57.68,132.88 L58.22,129.73 L58.76,126.51 L59.30,123.24 L59.84,119.93 L60.38,116.61 L60.92,113.28 L61.46,109.95 L62.00,106.62 L62.53,103.28 L63.07,99.95 L63.61,96.63 L64.15,93.33 L64.69,90.07 L65.23,86.87 L65.77,83.75 L66.31,80.72 L66.85,77.82 L67.39,75.05 L67.93,72.43 L68.47,69.96 L69.01,67.66 L69.54,65.51 L70.08,63.52 L70.62,61.68 L71.16,59.97 L71.70,58.38 L72.24,56.91 L72.78,55.55 L73.32,54.28 L73.86,53.12 L74.40,52.05 L74.94,51.08 L75.48,50.21 L76.02,49.44 L76.56,48.77 L77.09,48.21 L77.63,47.75 L78.17,47.40 L78.71,47.17 L79.25,47.04 L79.79,47.02 L80.33,47.11 L80.87,47.31 L81.41,47.63 L81.95,48.06 L82.49,48.60 L83.03,49.26 L83.57,50.03 L84.10,50.93 L84.64,51.95 L85.18,53.10 L85.72,54.39 L86.26,55.81 L86.80,57.39 L87.34,59.13 L87.88,61.03 L88.42,63.11 L88.96,65.36 L89.50,67.78 L90.04,70.38 L90.58,73.14 L91.11,76.05 L91.65,79.10 L92.19,82.26 L92.73,85.52 L93.27,88.86 L93.81,92.25 L94.35,95.69 L94.89,99.14 L95.43,102.60 L95.97,106.06 L96.51,109.50 L97.05,112.92 L97.59,116.30 L98.12,119.65 L98.66,122.97 L99.20,126.24 L99.74,129.48 L100.28,132.68 L100.82,135.84 L101.36,138.96 L101.90,142.06 L102.44,145.11 L102.98,148.14 L103.52,151.13 L104.06,154.10 L104.60,157.04 L105.14,159.95 L105.67,162.83 L106.21,165.69 L106.75,168.53 L107.29,171.35 L107.83,174.15 L108.37,176.91 L108.91,179.63 L109.45,182.29 L109.99,184.88 L110.53,187.35 L111.07,189.71 L111.61,191.93 L112.15,194.01 L112.68,195.97 L113.22,197.81 L113.76,199.56 L114.30,201.23 L114.84,202.84 L115.38,204.40 L115.92,205.93 L116.46,207.42 L117.00,208.86 L117.54,210.27 L118.08,211.62 L118.62,212.91 L119.16,214.13 L119.70,215.28 L120.23,216.34 L120.77,217.31 L121.31,218.20 L121.85,219.00 L122.39,219.72 L122.93,220.37 L123.47,220.94 L124.01,221.46 L124.55,221.91 L125.09,222.32 L125.63,222.69 L126.17,223.01 L126.71,223.31 L127.24,223.58 L127.78,223.84 L128.32,224.08 L128.86,224.32 L129.40,224.56 L129.94,224.80 L130.48,225.04 L131.02,225.29 L131.56,225.56 L132.10,225.83 L132.64,226.12 L133.18,226.42 L133.72,226.74 L134.25,227.07 L134.79,227.42 L135.33,227.79 L135.87,228.19 L136.41,228.60 L136.95,229.04 L137.49,229.50 L138.03,229.98 L138.57,230.49 L139.11,231.02 L139.65,231.57 L140.19,232.13 L140.73,232.72 L141.26,233.33 L141.80,233.94 L142.34,234.58 L142.88,235.22 L143.42,235.87 L143.96,236.53 L144.50,237.19 L145.04,237.86 L145.58,238.53 L146.12,239.20 L146.66,239.87 L147.20,240.54 L147.74,241.21 L148.28,241.88 L148.81,242.54 L149.35,243.20 L149.89,243.85 L150.43,244.50 L150.97,245.14 L151.51,245.77 L152.05,246.40 L152.59,247.02 L153.13,247.63 L153.67,248.23 L154.21,248.82 L154.75,249.39 L155.29,249.96 L155.82,250.51 L156.36,251.04 L156.90,251.56 L157.44,252.06 L157.98,252.54 L158.52,253.00 L159.06,253.44 L159.60,253.86 L160.14,254.25 L160.68,254.61 L161.22,254.95 L161.76,255.26 L162.30,255.54 L162.84,255.79 L163.37,256.00 L163.91,256.18 L164.45,256.32 L164.99,256.43 L165.53,256.49 L166.07,256.53 L166.61,256.52 L167.15,256.48 L167.69,256.41 L168.23,256.31 L168.77,256.18 L169.31,256.02 L169.85,255.83 L170.38,255.62 L170.92,255.38 L171.46,255.12 L172.00,254.84 L172.54,254.55 L173.08,254.23 L173.62,253.90 L174.16,253.55 L174.70,253.19 L175.24,252.81 L175.78,252.41 L176.32,252.00 L176.86,251.57 L177.39,251.12 L177.93,250.65 L178.47,250.17 L179.01,249.67 L179.55,249.15 L180.09,248.61 L180.63,248.06 L181.17,247.48 L181.71,246.89 L182.25,246.28 L182.79,245.66 L183.33,245.02 L183.87,244.37 L184.41,243.71 L184.94,243.03 L185.48,242.34 L186.02,241.64 L186.56,240.93 L187.10,240.21 L187.64,239.48 L188.18,238.75 L188.72,238.00 L189.26,237.26 L189.80,236.50 L190.34,235.74 L190.88,234.98 L191.42,234.22 L191.95,233.45 L192.49,232.67 L193.03,231.90 L193.57,231.12 L194.11,230.34 L194.65,229.56 L195.19,228.78 L195.73,228.00 L196.27,227.22 L196.81,226.43 L197.35,225.65 L197.89,224.86 L198.43,224.08 L198.96,223.29 L199.50,222.51 L200.04,221.72 L200.58,220.94 L201.12,220.15 L201.66,219.37 L202.20,218.59 L202.74,217.81 L203.28,217.04 L203.82,216.26 L204.36,215.49 L204.90,214.73 L205.44,213.97 L205.98,213.21 L206.51,212.46 L207.05,211.72 L207.59,210.98 L208.13,210.24 L208.67,209.52 L209.21,208.79 L209.75,208.08 L210.29,207.37 L210.83,206.67 L211.37,205.98 L211.91,205.29 L212.45,204.62 L212.99,203.95 L213.52,203.30 L214.06,202.65 L214.60,202.03 L215.14,201.42 L215.68,200.82 L216.22,200.25 L216.76,199.71 L217.30,199.19 L217.84,198.70 L218.38,198.24 L218.92,197.81 L219.46,197.42 L220.00,197.06 L220.53,196.73 L221.07,196.45 L221.61,196.20 L222.15,195.99 L222.69,195.82 L223.23,195.68 L223.77,195.59 L224.31,195.54 L224.85,195.52 L225.39,195.55 L225.93,195.62 L226.47,195.73 L227.01,195.87 L227.55,196.05 L228.08,196.26 L228.62,196.50 L229.16,196.77 L229.70,197.06 L230.24,197.37 L230.78,197.70 L231.32,198.04 L231.86,198.41 L232.40,198.78 L232.94,199.18 L233.48,199.58 L234.02,200.01 L234.56,200.45 L235.09,200.92 L235.63,201.41 L236.17,201.93 L236.71,202.48 L237.25,203.06 L237.79,203.67 L238.33,204.32 L238.87,205.00 L239.41,205.73 L239.95,206.49 L240.49,207.29 L241.03,208.13 L241.57,209.01 L242.10,209.92 L242.64,210.88 L243.18,211.87 L243.72,212.90 L244.26,213.96 L244.80,215.06 L245.34,216.19 L245.88,217.35 L246.42,218.53 L246.96,219.74 L247.50,220.97 L248.04,222.22 L248.58,223.48 L249.12,224.75 L249.65,226.02 L250.19,227.30 L250.73,228.58 L251.27,229.87 L251.81,231.16 L252.35,232.45 L252.89,233.75 L253.43,235.06 L253.97,236.37 L254.51,237.70 L255.05,239.03 L255.59,240.37 L256.13,241.72 L256.66,243.07 L257.20,244.42 L257.74,245.77 L258.28,247.10 L258.82,248.43 L259.36,249.73 L259.90,251.02 L260.44,252.28 L260.98,253.51 L261.52,254.72 L262.06,255.90 L262.60,257.05 L263.14,258.18 L263.67,259.27 L264.21,260.33 L264.75,261.36 L265.29,262.36 L265.83,263.33 L266.37,264.27 L266.91,265.17 L267.45,266.05 L267.99,266.90 L268.53,267.72 L269.07,268.51 L269.61,269.28 L270.15,270.02 L270.69,270.73 L271.22,271.41 L271.76,272.06 L272.30,272.69 L272.84,273.28 L273.38,273.84 L273.92,274.36 L274.46,274.86 L275.00,275.31 L275.54,275.73 L276.08,276.12 L276.62,276.47 L277.16,276.79 L277.70,277.08 L278.23,277.35 L278.77,277.59 L279.31,277.81 L279.85,278.01 L280.39,278.19 L280.93,278.36 L281.47,278.51 L282.01,278.65 L282.55,278.79 L283.09,278.91 L283.63,279.03 L284.17,279.15 L284.71,279.25 L285.24,279.36 L285.78,279.46 L286.32,279.55 L286.86,279.65 L287.40,279.73 L287.94,279.82 L288.48,279.90 L289.02,279.97 L289.56,280.04 L290.10,280.11 L290.64,280.18 L291.18,280.24 L291.72,280.30 L292.25,280.36 L292.79,280.42 L293.33,280.48 L293.87,280.53 L294.41,280.58 L294.95,280.63 L295.49,280.68 L296.03,280.72 L296.57,280.77 L297.11,280.81 L297.65,280.84 L298.19,280.88 L298.73,280.91 L299.27,280.94 L299.80,280.97 L300.34,281.00 L300.88,281.03 L301.42,281.05 L301.96,281.07 L302.50,281.10 L303.04,281.11 L303.58,281.13 L304.12,281.15 L304.66,281.16 L305.20,281.18 L305.74,281.19 L306.28,281.20 L306.81,281.21 L307.35,281.21 L307.89,281.22 L308.43,281.23 L308.97,281.23 L309.51,281.23 L310.05,281.24 L310.59,281.24 L311.13,281.24 L311.67,281.24 L312.21,281.24 L312.75,281.24 L313.29,281.24 L313.82,281.23 L314.36,281.23 L314.90,281.23 L315.44,281.23 L315.98,281.22 L316.52,281.22 L317.06,281.21 L317.60,281.21 L318.14,281.20 L318.68,281.20 L319.22,281.19 L319.76,281.19 L320.30,281.19 L320.84,281.18 L321.37,281.18 L321.91,281.17 L322.45,281.17 L322.99,281.17 L323.53,281.16 L324.07,281.16 L324.61,281.16 L325.15,281.15 L325.69,281.15 L326.23,281.15 L326.77,281.14 L327.31,281.14 L327.85,281.14 L328.38,281.14 L328.92,281.13 L329.46,281.13 L330.00,281.13 L330.54,281.13 L331.08,281.12 L331.62,281.12 L332.16,281.12 L332.70,281.12 L333.24,281.12 L333.78,281.12 L334.32,281.11 L334.86,281.11 L335.39,281.11 L335.93,281.11 L336.47,281.11 L337.01,281.11 L337.55,281.11 L338.09,281.11 L338.63,281.11 L339.17,281.11 L339.71,281.11 L340.25,281.11 L340.79,281.11 L341.33,281.11 L341.87,281.11 L342.41,281.11 L342.94,281.11 L343.48,281.11 L344.02,281.11 L344.56,281.11 L345.10,281.11 L345.64,281.11 L346.18,281.11 L346.72,281.11 L347.26,281.11 L347.80,281.11 L348.34,281.12 L348.88,281.12 L349.42,281.12 L349.95,281.12 L350.49,281.12 L351.03,281.12 L351.57,281.12 L352.11,281.13 L352.65,281.13 L353.19,281.13 L353.73,281.13 L354.27,281.13 L354.81,281.14 L355.35,281.14 L355.89,281.14 L356.43,281.14 L356.96,281.14 L357.50,281.15 L358.04,281.15 L358.58,281.15 L359.12,281.15 L359.66,281.16 L360.20,281.16 L360.74,281.16 L361.28,281.17 L361.82,281.17 L362.36,281.17 L362.90,281.17 L363.44,281.18 L363.98,281.18 L364.51,281.18 L365.05,281.19 L365.59,281.19 L366.13,281.19 L366.67,281.20 L367.21,281.20 L367.75,281.20 L368.29,281.21 L368.83,281.21 L369.37,281.21 L369.91,281.22 L370.45,281.22 L370.99,281.22 L371.52,281.23 L372.06,281.23 L372.60,281.23 L373.14,281.24 L373.68,281.24 L374.22,281.25 L374.76,281.25 L375.30,281.25 L375.84,281.26 L376.38,281.26 L376.92,281.26 L377.46,281.27 L378.00,281.27 L378.53,281.28 L379.07,281.28 L379.61,281.28 L380.15,281.29 L380.69,281.29 L381.23,281.30 L381.77,281.30 L382.31,281.31 L382.85,281.31 L383.39,281.31 L383.93,281.32 L384.47,281.32 L385.01,281.33 L385.55,281.33 L386.08,281.33 L386.62,281.34 L387.16,281.34 L387.70,281.35 L388.24,281.35 L388.78,281.36 L389.32,281.36" stroke="#35dd35"/>
<path d="M44.20,167.24 L44.74,166.81 L45.28,166.37 L45.82,165.91 L46.36,165.42 L46.90,164.89 L47.44,164.31 L47.97,163.67 L48.51,162.96 L49.05,162.17 L49.59,161.29 L50.13,160.30 L50.67,159.21 L51.21,158.00 L51.75,156.67 L52.29,155.20 L52.83,153.62 L53.37,151.92 L53.91,150.11 L54.45,148.18 L54.98,146.15 L55.52,144.01 L56.06,141.77 L56.60,139.43 L57.14,137.00 L57.68,134.47 L58.22,131.85 L58.76,129.14 L59.30,126.35 L59.84,123.47 L60.38,120.51 L60.92,117.48 L61.46,114.38 L62.00,111.22 L62.53,108.01 L63.07,104.75 L63.61,101.46 L64.15,98.16 L64.69,94.87 L65.23,91.64 L65.77,88.47 L66.31,85.40 L66.85,82.46 L67.39,79.68 L67.93,77.07 L68.47,74.68 L69.01,72.50 L69.54,70.50 L70.08,68.68 L70.62,67.02 L71.16,65.49 L71.70,64.08 L72.24,62.77 L72.78,61.54 L73.32,60.38 L73.86,59.29 L74.40,58.27 L74.94,57.33 L75.48,56.48 L76.02,55.72 L76.56,55.06 L77.09,54.50 L77.63,54.05 L78.17,53.71 L78.71,53.50 L79.25,53.42 L79.79,53.45 L80.33,53.61 L80.87,53.88 L81.41,54.26 L81.95,54.76 L82.49,55.36 L83.03,56.07 L83.57,56.87 L84.10,57.77 L84.64,58.77 L85.18,59.86 L85.72,61.04 L86.26,62.34 L86.80,63.78 L87.34,65.36 L87.88,67.12 L88.42,69.07 L88.96,71.23 L89.50,73.62 L90.04,76.25 L90.58,79.11 L91.11,82.16 L91.65,85.38 L92.19,88.73 L92.73,92.18 L93.27,95.70 L93.81,99.27 L94.35,102.84 L94.89,106.39 L95.43,109.91 L95.97,113.39 L96.51,116.83 L97.05,120.24 L97.59,123.61 L98.12,126.94 L98.66,130.23 L99.20,133.49 L99.74,136.71 L100.28,139.89 L100.82,143.03 L101.36,146.14 L101.90,149.21 L102.44,152.23 L102.98,155.22 L103.52,158.17 L104.06,161.08 L104.60,163.96 L105.14,166.79 L105.67,169.58 L106.21,172.34 L106.75,175.05 L107.29,177.73 L107.83,180.36 L108.37,182.96 L108.91,185.51 L109.45,188.02 L109.99,190.47 L110.53,192.83 L111.07,195.05 L111.61,197.14 L112.15,199.11 L112.68,200.96 L113.22,202.73 L113.76,204.42 L114.30,206.03 L114.84,207.60 L115.38,209.12 L115.92,210.61 L116.46,212.06 L117.00,213.46 L117.54,214.81 L118.08,216.10 L118.62,217.33 L119.16,218.48 L119.70,219.55 L120.23,220.55 L120.77,221.45 L121.31,222.26 L121.85,223.00 L122.39,223.66 L122.93,224.25 L123.47,224.77 L124.01,225.24 L124.55,225.65 L125.09,226.02 L125.63,226.35 L126.17,226.64 L126.71,226.90 L127.24,227.14 L127.78,227.36 L128.32,227.57 L128.86,227.77 L129.40,227.97 L129.94,228.18 L130.48,228.39 L131.02,228.61 L131.56,228.84 L132.10,229.08 L132.64,229.33 L133.18,229.59 L133.72,229.87 L134.25,230.16 L134.79,230.47 L135.33,230.80 L135.87,231.15 L136.41,231.52 L136.95,231.91 L137.49,232.32 L138.03,232.76 L138.57,233.23 L139.11,233.71 L139.65,234.22 L140.19,234.75 L140.73,235.29 L141.26,235.86 L141.80,236.43 L142.34,237.02 L142.88,237.62 L143.42,238.24 L143.96,238.86 L144.50,239.49 L145.04,240.12 L145.58,240.76 L146.12,241.41 L146.66,242.05 L147.20,242.70 L147.74,243.34 L148.28,243.99 L148.81,244.63 L149.35,245.27 L149.89,245.91 L150.43,246.55 L150.97,247.17 L151.51,247.80 L152.05,248.41 L152.59,249.02 L153.13,249.62 L153.67,250.21 L154.21,250.79 L154.75,251.36 L155.29,251.91 L155.82,252.46 L156.36,252.98 L156.90,253.50 L157.44,253.99 L157.98,254.47 L158.52,254.93 L159.06,255.37 L159.60,255.78 L160.14,256.17 L160.68,256.54 L161.22,256.88 L161.76,257.18 L162.30,257.46 L162.84,257.71 L163.37,257.92 L163.91,258.10 L164.45,258.24 L164.99,258.35 L165.53,258.41 L166.07,258.44 L166.61,258.44 L167.15,258.39 L167.69,258.32 L168.23,258.22 L168.77,258.08 L169.31,257.92 L169.85,257.74 L170.38,257.53 L170.92,257.30 L171.46,257.05 L172.00,256.78 L172.54,256.49 L173.08,256.19 L173.62,255.87 L174.16,255.55 L174.70,255.20 L175.24,254.84 L175.78,254.47 L176.32,254.08 L176.86,253.67 L177.39,253.25 L177.93,252.80 L178.47,252.34 L179.01,251.85 L179.55,251.35 L180.09,250.82 L180.63,250.27 L181.17,249.70 L181.71,249.11 L182.25,248.51 L182.79,247.88 L183.33,247.24 L183.87,246.58 L184.41,245.90 L184.94,245.22 L185.48,244.51 L186.02,243.80 L186.56,243.08 L187.10,242.35 L187.64,241.60 L188.18,240.85 L188.72,240.10 L189.26,239.33 L189.80,238.56 L190.34,237.79 L190.88,237.02 L191.42,236.24 L191.95,235.46 L192.49,234.67 L193.03,233.89 L193.57,233.10 L194.11,232.32 L194.65,231.53 L195.19,230.74 L195.73,229.95 L196.27,229.17 L196.81,228.38 L197.35,227.60 L197.89,226.81 L198.43,226.03 L198.96,225.25 L199.50,224.47 L200.04,223.70 L200.58,222.93 L201.12,222.16 L201.66,221.40 L202.20,220.64 L202.74,219.88 L203.28,219.14 L203.82,218.39 L204.36,217.65 L204.90,216.92 L205.44,216.19 L205.98,215.47 L206.51,214.75 L207.05,214.04 L207.59,213.34 L208.13,212.64 L208.67,211.95 L209.21,211.26 L209.75,210.58 L210.29,209.91 L210.83,209.25 L211.37,208.59 L211.91,207.94 L212.45,207.30 L212.99,206.66 L213.52,206.03 L214.06,205.42 L214.60,204.81 L215.14,204.23 L215.68,203.66 L216.22,203.11 L216.76,202.59 L217.30,202.09 L217.84,201.62 L218.38,201.17 L218.92,200.76 L219.46,200.38 L220.00,200.04 L220.53,199.73 L221.07,199.46 L221.61,199.22 L222.15,199.02 L222.69,198.86 L223.23,198.73 L223.77,198.65 L224.31,198.60 L224.85,198.59 L225.39,198.62 L225.93,198.69 L226.47,198.80 L227.01,198.95 L227.55,199.12 L228.08,199.33 L228.62,199.57 L229.16,199.83 L229.70,200.11 L230.24,200.42 L230.78,200.74 L231.32,201.07 L231.86,201.42 L232.40,201.78 L232.94,202.15 L233.48,202.54 L234.02,202.94 L234.56,203.37 L235.09,203.81 L235.63,204.29 L236.17,204.79 L236.71,205.33 L237.25,205.90 L237.79,206.50 L238.33,207.15 L238.87,207.84 L239.41,208.57 L239.95,209.34 L240.49,210.16 L241.03,211.02 L241.57,211.92 L242.10,212.86 L242.64,213.84 L243.18,214.85 L243.72,215.90 L244.26,216.99 L244.80,218.11 L245.34,219.26 L245.88,220.43 L246.42,221.64 L246.96,222.86 L247.50,224.10 L248.04,225.35 L248.58,226.62 L249.12,227.89 L249.65,229.16 L250.19,230.43 L250.73,231.69 L251.27,232.96 L251.81,234.22 L252.35,235.48 L252.89,236.74 L253.43,238.01 L253.97,239.28 L254.51,240.56 L255.05,241.85 L255.59,243.14 L256.13,244.44 L256.66,245.74 L257.20,247.03 L257.74,248.32 L258.28,249.59 L258.82,250.85 L259.36,252.09 L259.90,253.30 L260.44,254.49 L260.98,255.66 L261.52,256.80 L262.06,257.92 L262.60,259.00 L263.14,260.05 L263.67,261.07 L264.21,262.06 L264.75,263.01 L265.29,263.93 L265.83,264.81 L266.37,265.67 L266.91,266.50 L267.45,267.30 L267.99,268.07 L268.53,268.82 L269.07,269.54 L269.61,270.24 L270.15,270.92 L270.69,271.58 L271.22,272.21 L271.76,272.81 L272.30,273.39 L272.84,273.95 L273.38,274.47 L273.92,274.96 L274.46,275.43 L275.00,275.86 L275.54,276.26 L276.08,276.63 L276.62,276.97 L277.16,277.28 L277.70,277.57 L278.23,277.84 L278.77,278.08 L279.31,278.30 L279.85,278.51 L280.39,278.70 L280.93,278.88 L281.47,279.04 L282.01,279.19 L282.55,279.34 L283.09,279.48 L283.63,279.61 L284.17,279.74 L284.71,279.87 L285.24,279.99 L285.78,280.10 L286.32,280.21 L286.86,280.31 L287.40,280.41 L287.94,280.51 L288.48,280.60 L289.02,280.68 L289.56,280.77 L290.10,280.85 L290.64,280.92 L291.18,280.99 L291.72,281.06 L292.25,281.12 L292.79,281.19 L293.33,281.24 L293.87,281.30 L294.41,281.35 L294.95,281.40 L295.49,281.45 L296.03,281.49 L296.57,281.53 L297.11,281.57 L297.65,281.61 L298.19,281.65 L298.73,281.68 L299.27,281.71 L299.80,281.74 L300.34,281.77 L300.88,281.79 L301.42,281.81 L301.96,281.84 L302.50,281.86 L303.04,281.87 L303.58,281.89 L304.12,281.90 L304.66,281.92 L305.20,281.93 L305.74,281.94 L306.28,281.95 L306.81,281.96 L307.35,281.96 L307.89,281.97 L308.43,281.97 L308.97,281.98 L309.51,281.98 L310.05,281.98 L310.59,281.98 L311.13,281.98 L311.67,281.98 L312.21,281.98 L312.75,281.98 L313.29,281.97 L313.82,281.97 L314.36,281.96 L314.90,281.96 L315.44,281.95 L315.98,281.95 L316.52,281.94 L317.06,281.94 L317.60,281.93 L318.14,281.93 L318.68,281.92 L319.22,281.92 L319.76,281.91 L320.30,281.90 L320.84,281.90 L321.37,281.89 L321.91,281.89 L322.45,281.88 L322.99,281.88 L323.53,281.87 L324.07,281.87 L324.61,281.86 L325.15,281.86 L325.69,281.86 L326.23,281.85 L326.77,281.85 L327.31,281.84 L327.85,281.84 L328.38,281.84 L328.92,281.83 L329.46,281.83 L330.00,281.83 L330.54,281.82 L331.08,281.82 L331.62,281.82 L332.16,281.82 L332.70,281.81 L333.24,281.81 L333.78,281.81 L334.32,281.81 L334.86,281.81 L335.39,281.80 L335.93,281.80 L336.47,281.80 L337.01,281.80 L337.55,281.80 L338.09,281.80 L338.63,281.80 L339.17,281.80 L339.71,281.79 L340.25,281.79 L340.79,281.79 L341.33,281.79 L341.87,281.79 L342.41,281.79 L342.94,281.79 L343.48,281.79 L344.02,281.79 L344.56,281.79 L345.10,281.79 L345.64,281.79 L346.18,281.79 L346.72,281.79 L347.26,281.79 L347.80,281.80 L348.34,281.80 L348.88,281.80 L349.42,281.80 L349.95,281.80 L350.49,281.80 L351.03,281.80 L351.57,281.80 L352.11,281.81 L352.65,281.81 L353.19,281.81 L353.73,281.81 L354.27,281.81 L354.81,281.81 L355.35,281.82 L355.89,281.82 L356.43,281.82 L356.96,281.82 L357.50,281.82 L358.04,281.83 L358.58,281.83 L359.12,281.83 L359.66,281.83 L360.20,281.84 L360.74,281.84 L361.28,281.84 L361.82,281.85 L362.36,281.85 L362.90,281.85 L363.44,281.85 L363.98,281.86 L364.51,281.86 L365.05,281.86 L365.59,281.87 L366.13,281.87 L366.67,281.87 L367.21,281.88 L367.75,281.88 L368.29,281.88 L368.83,281.89 L369.37,281.89 L369.91,281.89 L370.45,281.90 L370.99,281.90 L371.52,281.91 L372.06,281.91 L372.60,281.91 L373.14,281.92 L373.68,281.92 L374.22,281.92 L374.76,281.93 L375.30,281.93 L375.84,281.94 L376.38,281.94 L376.92,281.95 L377.46,281.95 L378.00,281.95 L378.53,281.96 L379.07,281.96 L379.61,281.97 L380.15,281.97 L380.69,281.97 L381.23,281.98 L381.77,281.98 L382.31,281.99 L382.85,281.99 L383.39,282.00 L383.93,282.00 L384.47,282.00 L385.01,282.01 L385.55,282.01 L386.08,282.02 L386.62,282.02 L387.16,282.03 L387.70,282.03 L388.24,282.04 L388.78,282.04 L389.32,282.04" stroke="#a87cf6"/>
</g>
<path d="M292,50.2 H328" stroke="#2d3232" stroke-width="1.6"/>
<text font-family="Liberation Serif, serif" font-weight="bold" stroke="#111" stroke-width="0.25" font-size="15.5" x="335.70000000000005" y="56.0" fill="#111">0 hr</text>
<path d="M292,69.6 H328" stroke="#f2303f" stroke-width="1.6"/>
<text font-family="Liberation Serif, serif" font-weight="bold" stroke="#111" stroke-width="0.25" font-size="15.5" x="332.0" y="75.4" fill="#111">1 hr</text>
<path d="M292,89.5 H328" stroke="#3b6cf4" stroke-width="1.6"/>
<text font-family="Liberation Serif, serif" font-weight="bold" stroke="#111" stroke-width="0.25" font-size="15.5" x="332.0" y="95.3" fill="#111">2 hr</text>
<path d="M292,109.4 H328" stroke="#35dd35" stroke-width="1.6"/>
<text font-family="Liberation Serif, serif" font-weight="bold" stroke="#111" stroke-width="0.25" font-size="15.5" x="332.0" y="115.2" fill="#111">3 hr</text>
<path d="M292,128.9 H328" stroke="#a87cf6" stroke-width="1.6"/>
<text font-family="Liberation Serif, serif" font-weight="bold" stroke="#111" stroke-width="0.25" font-size="15.5" x="332.0" y="134.7" fill="#111">4 hr</text>
<path d="M459.0,0.9 H808.9 V284.2 H459.0 Z" stroke="#000" stroke-width="2" fill="none"/>
<path d="M452.50,284.20 H459.0 M456.00,258.45 H459.0 M452.50,232.70 H459.0 M456.00,206.95 H459.0 M452.50,181.20 H459.0 M456.00,155.45 H459.0 M452.50,129.70 H459.0 M456.00,103.95 H459.0 M452.50,78.20 H459.0 M456.00,52.45 H459.0 M452.50,26.70 H459.0 M456.00,0.95 H459.0 M459.15,284.2 V287.70 M481.00,284.2 V290.70 M502.85,284.2 V287.70 M524.70,284.2 V290.70 M546.55,284.2 V287.70 M568.40,284.2 V290.70 M590.25,284.2 V287.70 M612.10,284.2 V290.70 M633.95,284.2 V287.70 M655.80,284.2 V290.70 M677.65,284.2 V287.70 M699.50,284.2 V290.70 M721.35,284.2 V287.70 M743.20,284.2 V290.70 M765.05,284.2 V287.70 M786.90,284.2 V290.70 M808.75,284.2 V287.70" stroke="#000" stroke-width="2" fill="none"/>
<g font-family="Liberation Sans, sans-serif" font-size="12" fill="#111" text-anchor="end">
<text x="447.4" y="288.20">0.0</text>
<text x="447.4" y="236.70">0.5</text>
<text x="447.4" y="185.20">1.0</text>
<text x="447.4" y="133.70">1.5</text>
<text x="447.4" y="82.20">2.0</text>
<text x="447.4" y="30.70">2.5</text>
</g>
<g font-family="Liberation Sans, sans-serif" font-size="12" fill="#111" text-anchor="middle">
<text x="481.00" y="304.8">200</text>
<text x="524.70" y="304.8">220</text>
<text x="568.40" y="304.8">240</text>
<text x="612.10" y="304.8">260</text>
<text x="655.80" y="304.8">280</text>
<text x="699.50" y="304.8">300</text>
<text x="743.20" y="304.8">320</text>
<text x="786.90" y="304.8">340</text>
</g>
<text font-family="Liberation Serif, serif" font-weight="bold" stroke="#111" stroke-width="0.25" font-size="15.8" x="628.45" y="323.7" text-anchor="middle" fill="#111">Wavelength(nm)</text>
<text font-family="Liberation Serif, serif" font-weight="bold" stroke="#111" stroke-width="0.25" font-size="16.1" transform="translate(421.9,136.4) rotate(-90)" text-anchor="middle" fill="#111">Absorbance(a.u.)</text>
<text font-family="Liberation Serif, serif" font-weight="bold" stroke="#111" stroke-width="0.25" font-size="15.9" x="464.7" y="21.35" fill="#111">(b)</text>
<g fill="none" stroke-width="1.4" stroke-linejoin="round">
<path d="M459.15,146.70 L459.70,146.64 L460.24,146.42 L460.79,145.96 L461.33,145.29 L461.88,144.44 L462.43,143.45 L462.97,142.34 L463.52,141.15 L464.07,139.92 L464.61,138.66 L465.16,137.35 L465.70,135.98 L466.25,134.53 L466.80,132.97 L467.34,131.28 L467.89,129.45 L468.44,127.48 L468.98,125.38 L469.53,123.16 L470.07,120.85 L470.62,118.46 L471.17,116.00 L471.71,113.46 L472.26,110.83 L472.81,108.07 L473.35,105.16 L473.90,102.08 L474.44,98.79 L474.99,95.34 L475.54,91.83 L476.08,88.39 L476.63,85.16 L477.18,82.21 L477.72,79.51 L478.27,76.94 L478.81,74.43 L479.36,71.88 L479.91,69.20 L480.45,66.30 L481.00,63.17 L481.55,59.83 L482.09,56.35 L482.64,52.77 L483.19,49.13 L483.73,45.48 L484.28,41.87 L484.82,38.35 L485.37,34.98 L485.92,31.82 L486.46,28.92 L487.01,26.36 L487.56,24.18 L488.10,22.44 L488.65,21.14 L489.19,20.22 L489.74,19.60 L490.29,19.22 L490.83,19.02 L491.38,19.00 L491.93,19.14 L492.47,19.45 L493.02,19.91 L493.56,20.52 L494.11,21.28 L494.66,22.19 L495.20,23.20 L495.75,24.25 L496.30,25.28 L496.84,26.20 L497.39,26.97 L497.93,27.52 L498.48,27.94 L499.03,28.33 L499.57,28.79 L500.12,29.43 L500.67,30.36 L501.21,31.67 L501.76,33.39 L502.30,35.41 L502.85,37.61 L503.40,39.89 L503.94,42.15 L504.49,44.37 L505.04,46.55 L505.58,48.70 L506.13,50.84 L506.67,52.97 L507.22,55.09 L507.77,57.24 L508.31,59.46 L508.86,61.78 L509.40,64.27 L509.95,66.96 L510.50,69.90 L511.04,73.13 L511.59,76.64 L512.14,80.37 L512.68,84.24 L513.23,88.21 L513.77,92.21 L514.32,96.18 L514.87,100.12 L515.41,104.01 L515.96,107.85 L516.51,111.63 L517.05,115.34 L517.60,118.98 L518.14,122.53 L518.69,125.98 L519.24,129.34 L519.78,132.61 L520.33,135.79 L520.88,138.90 L521.42,141.93 L521.97,144.90 L522.51,147.81 L523.06,150.67 L523.61,153.49 L524.15,156.27 L524.70,159.02 L525.25,161.74 L525.79,164.44 L526.34,167.11 L526.88,169.75 L527.43,172.34 L527.98,174.88 L528.52,177.38 L529.07,179.81 L529.62,182.18 L530.16,184.48 L530.71,186.71 L531.25,188.85 L531.80,190.91 L532.35,192.87 L532.89,194.73 L533.44,196.50 L533.99,198.15 L534.53,199.68 L535.08,201.10 L535.62,202.39 L536.17,203.58 L536.72,204.67 L537.26,205.66 L537.81,206.58 L538.36,207.42 L538.90,208.20 L539.45,208.93 L540.00,209.60 L540.54,210.25 L541.09,210.86 L541.63,211.44 L542.18,212.00 L542.73,212.53 L543.27,213.04 L543.82,213.53 L544.37,214.00 L544.91,214.45 L545.46,214.90 L546.00,215.33 L546.55,215.76 L547.10,216.18 L547.64,216.60 L548.19,217.01 L548.74,217.43 L549.28,217.85 L549.83,218.27 L550.37,218.70 L550.92,219.14 L551.47,219.59 L552.01,220.04 L552.56,220.51 L553.11,221.00 L553.65,221.50 L554.20,222.02 L554.74,222.55 L555.29,223.11 L555.84,223.68 L556.38,224.28 L556.93,224.90 L557.48,225.54 L558.02,226.20 L558.57,226.87 L559.11,227.56 L559.66,228.26 L560.21,228.97 L560.75,229.69 L561.30,230.42 L561.85,231.16 L562.39,231.91 L562.94,232.66 L563.48,233.41 L564.03,234.17 L564.58,234.93 L565.12,235.68 L565.67,236.44 L566.22,237.19 L566.76,237.94 L567.31,238.69 L567.85,239.43 L568.40,240.17 L568.95,240.89 L569.49,241.61 L570.04,242.32 L570.59,243.02 L571.13,243.71 L571.68,244.38 L572.22,245.04 L572.77,245.68 L573.32,246.31 L573.86,246.92 L574.41,247.52 L574.96,248.09 L575.50,248.63 L576.05,249.16 L576.59,249.65 L577.14,250.12 L577.69,250.56 L578.23,250.97 L578.78,251.35 L579.33,251.69 L579.87,252.00 L580.42,252.27 L580.96,252.50 L581.51,252.69 L582.06,252.83 L582.60,252.93 L583.15,252.99 L583.70,253.01 L584.24,252.99 L584.79,252.93 L585.33,252.83 L585.88,252.69 L586.43,252.51 L586.97,252.30 L587.52,252.05 L588.07,251.76 L588.61,251.44 L589.16,251.08 L589.70,250.69 L590.25,250.26 L590.80,249.81 L591.34,249.32 L591.89,248.80 L592.43,248.25 L592.98,247.68 L593.53,247.07 L594.07,246.44 L594.62,245.79 L595.17,245.11 L595.71,244.42 L596.26,243.70 L596.81,242.96 L597.35,242.20 L597.90,241.43 L598.44,240.63 L598.99,239.83 L599.54,239.01 L600.08,238.18 L600.63,237.33 L601.17,236.48 L601.72,235.62 L602.27,234.74 L602.81,233.86 L603.36,232.97 L603.91,232.08 L604.45,231.17 L605.00,230.26 L605.54,229.35 L606.09,228.43 L606.64,227.50 L607.18,226.58 L607.73,225.65 L608.28,224.72 L608.82,223.78 L609.37,222.85 L609.91,221.91 L610.46,220.98 L611.01,220.05 L611.55,219.12 L612.10,218.19 L612.65,217.26 L613.19,216.33 L613.74,215.40 L614.28,214.48 L614.83,213.55 L615.38,212.63 L615.92,211.71 L616.47,210.79 L617.02,209.87 L617.56,208.95 L618.11,208.04 L618.65,207.12 L619.20,206.21 L619.75,205.30 L620.29,204.39 L620.84,203.48 L621.39,202.58 L621.93,201.68 L622.48,200.79 L623.02,199.90 L623.57,199.03 L624.12,198.16 L624.66,197.30 L625.21,196.46 L625.76,195.63 L626.30,194.82 L626.85,194.03 L627.39,193.25 L627.94,192.50 L628.49,191.77 L629.03,191.06 L629.58,190.37 L630.13,189.71 L630.67,189.08 L631.22,188.47 L631.76,187.90 L632.31,187.34 L632.86,186.82 L633.40,186.31 L633.95,185.83 L634.50,185.37 L635.04,184.94 L635.59,184.52 L636.13,184.12 L636.68,183.73 L637.23,183.37 L637.77,183.03 L638.32,182.71 L638.87,182.42 L639.41,182.15 L639.96,181.92 L640.50,181.71 L641.05,181.54 L641.60,181.41 L642.14,181.32 L642.69,181.26 L643.24,181.25 L643.78,181.28 L644.33,181.35 L644.88,181.46 L645.42,181.60 L645.97,181.78 L646.51,182.00 L647.06,182.25 L647.61,182.54 L648.15,182.86 L648.70,183.20 L649.25,183.58 L649.79,184.00 L650.34,184.44 L650.88,184.93 L651.43,185.44 L651.98,186.00 L652.52,186.59 L653.07,187.22 L653.62,187.89 L654.16,188.59 L654.71,189.33 L655.25,190.10 L655.80,190.90 L656.35,191.72 L656.89,192.58 L657.44,193.45 L657.99,194.35 L658.53,195.27 L659.08,196.20 L659.62,197.15 L660.17,198.11 L660.72,199.08 L661.26,200.07 L661.81,201.06 L662.36,202.06 L662.90,203.09 L663.45,204.14 L663.99,205.22 L664.54,206.34 L665.09,207.50 L665.63,208.71 L666.18,209.96 L666.73,211.27 L667.27,212.65 L667.82,214.09 L668.36,215.60 L668.91,217.19 L669.46,218.86 L670.00,220.60 L670.55,222.39 L671.10,224.22 L671.64,226.06 L672.19,227.90 L672.73,229.72 L673.28,231.52 L673.83,233.29 L674.37,235.04 L674.92,236.76 L675.47,238.44 L676.01,240.10 L676.56,241.73 L677.10,243.32 L677.65,244.88 L678.20,246.40 L678.74,247.89 L679.29,249.33 L679.84,250.74 L680.38,252.10 L680.93,253.42 L681.47,254.70 L682.02,255.94 L682.57,257.14 L683.11,258.30 L683.66,259.42 L684.21,260.50 L684.75,261.55 L685.30,262.57 L685.84,263.55 L686.39,264.50 L686.94,265.41 L687.48,266.30 L688.03,267.16 L688.58,267.99 L689.12,268.79 L689.67,269.57 L690.21,270.32 L690.76,271.04 L691.31,271.73 L691.85,272.40 L692.40,273.04 L692.94,273.65 L693.49,274.23 L694.04,274.79 L694.58,275.32 L695.13,275.83 L695.68,276.30 L696.22,276.75 L696.77,277.17 L697.32,277.57 L697.86,277.94 L698.41,278.28 L698.95,278.60 L699.50,278.90 L700.05,279.18 L700.59,279.44 L701.14,279.68 L701.68,279.90 L702.23,280.10 L702.78,280.29 L703.32,280.47 L703.87,280.63 L704.42,280.78 L704.96,280.92 L705.51,281.04 L706.06,281.16 L706.60,281.27 L707.15,281.38 L707.69,281.47 L708.24,281.56 L708.79,281.65 L709.33,281.73 L709.88,281.80 L710.42,281.86 L710.97,281.92 L711.52,281.98 L712.06,282.03 L712.61,282.08 L713.16,282.12 L713.70,282.16 L714.25,282.20 L714.80,282.23 L715.34,282.26 L715.89,282.29 L716.43,282.32 L716.98,282.35 L717.53,282.37 L718.07,282.40 L718.62,282.42 L719.16,282.45 L719.71,282.47 L720.26,282.49 L720.80,282.51 L721.35,282.53 L721.90,282.55 L722.44,282.57 L722.99,282.58 L723.53,282.60 L724.08,282.62 L724.63,282.63 L725.17,282.64 L725.72,282.66 L726.27,282.67 L726.81,282.68 L727.36,282.70 L727.90,282.71 L728.45,282.72 L729.00,282.73 L729.54,282.74 L730.09,282.75 L730.64,282.76 L731.18,282.76 L731.73,282.77 L732.27,282.78 L732.82,282.79 L733.37,282.79 L733.91,282.80 L734.46,282.81 L735.01,282.81 L735.55,282.82 L736.10,282.83 L736.64,282.83 L737.19,282.84 L737.74,282.84 L738.28,282.85 L738.83,282.85 L739.38,282.86 L739.92,282.86 L740.47,282.87 L741.01,282.87 L741.56,282.88 L742.11,282.88 L742.65,282.88 L743.20,282.89 L743.75,282.89 L744.29,282.90 L744.84,282.90 L745.38,282.91 L745.93,282.91 L746.48,282.92 L747.02,282.92 L747.57,282.92 L748.12,282.93 L748.66,282.93 L749.21,282.94 L749.75,282.94 L750.30,282.95 L750.85,282.95 L751.39,282.95 L751.94,282.96 L752.49,282.96 L753.03,282.97 L753.58,282.97 L754.12,282.97 L754.67,282.98 L755.22,282.98 L755.76,282.99 L756.31,282.99 L756.86,282.99 L757.40,283.00 L757.95,283.00 L758.50,283.00 L759.04,283.01 L759.59,283.01 L760.13,283.02 L760.68,283.02 L761.23,283.02 L761.77,283.03 L762.32,283.03 L762.87,283.03 L763.41,283.04 L763.96,283.04 L764.50,283.04 L765.05,283.05 L765.60,283.05 L766.14,283.05 L766.69,283.06 L767.24,283.06 L767.78,283.06 L768.33,283.07 L768.87,283.07 L769.42,283.07 L769.97,283.08 L770.51,283.08 L771.06,283.08 L771.61,283.09 L772.15,283.09 L772.70,283.09 L773.24,283.10 L773.79,283.10 L774.34,283.10 L774.88,283.11 L775.43,283.11 L775.98,283.11 L776.52,283.12 L777.07,283.12 L777.61,283.12 L778.16,283.12 L778.71,283.13 L779.25,283.13 L779.80,283.13 L780.35,283.14 L780.89,283.14 L781.44,283.14 L781.98,283.14 L782.53,283.15 L783.08,283.15 L783.62,283.15 L784.17,283.16 L784.72,283.16 L785.26,283.16 L785.81,283.16 L786.35,283.17 L786.90,283.17 L787.45,283.17 L787.99,283.17 L788.54,283.18 L789.09,283.18 L789.63,283.18 L790.18,283.19 L790.72,283.19 L791.27,283.19 L791.82,283.19 L792.36,283.20 L792.91,283.20 L793.45,283.20 L794.00,283.20 L794.55,283.21 L795.09,283.21 L795.64,283.21 L796.19,283.21 L796.73,283.22 L797.28,283.22 L797.83,283.22 L798.37,283.22 L798.92,283.23 L799.46,283.23 L800.01,283.23 L800.56,283.24 L801.10,283.24 L801.65,283.24 L802.19,283.24 L802.74,283.25 L803.29,283.25 L803.83,283.25 L804.38,283.25 L804.93,283.26 L805.47,283.26 L806.02,283.26 L806.57,283.26 L807.11,283.27 L807.66,283.27 L808.20,283.27 L808.75,283.27" stroke="#2d3232"/>
<path d="M459.15,150.62 L459.70,150.70 L460.24,150.59 L460.79,150.22 L461.33,149.62 L461.88,148.82 L462.43,147.87 L462.97,146.79 L463.52,145.63 L464.07,144.43 L464.61,143.20 L465.16,141.93 L465.70,140.59 L466.25,139.14 L466.80,137.58 L467.34,135.85 L467.89,133.95 L468.44,131.87 L468.98,129.62 L469.53,127.21 L470.07,124.65 L470.62,121.97 L471.17,119.16 L471.71,116.25 L472.26,113.28 L472.81,110.28 L473.35,107.28 L473.90,104.32 L474.44,101.43 L474.99,98.63 L475.54,95.91 L476.08,93.23 L476.63,90.60 L477.18,87.98 L477.72,85.35 L478.27,82.71 L478.81,80.03 L479.36,77.29 L479.91,74.47 L480.45,71.57 L481.00,68.55 L481.55,65.43 L482.09,62.21 L482.64,58.92 L483.19,55.55 L483.73,52.13 L484.28,48.65 L484.82,45.15 L485.37,41.67 L485.92,38.28 L486.46,35.08 L487.01,32.14 L487.56,29.55 L488.10,27.38 L488.65,25.70 L489.19,24.53 L489.74,23.86 L490.29,23.70 L490.83,23.91 L491.38,24.35 L491.93,24.87 L492.47,25.31 L493.02,25.50 L493.56,25.39 L494.11,25.07 L494.66,24.67 L495.20,24.31 L495.75,24.13 L496.30,24.24 L496.84,24.65 L497.39,25.35 L497.93,26.29 L498.48,27.43 L499.03,28.75 L499.57,30.20 L500.12,31.76 L500.67,33.38 L501.21,35.05 L501.76,36.78 L502.30,38.55 L502.85,40.39 L503.40,42.29 L503.94,44.25 L504.49,46.27 L505.04,48.35 L505.58,50.47 L506.13,52.62 L506.67,54.79 L507.22,56.97 L507.77,59.18 L508.31,61.44 L508.86,63.81 L509.40,66.33 L509.95,69.04 L510.50,71.99 L511.04,75.21 L511.59,78.70 L512.14,82.39 L512.68,86.22 L513.23,90.14 L513.77,94.09 L514.32,98.02 L514.87,101.91 L515.41,105.77 L515.96,109.57 L516.51,113.31 L517.05,116.99 L517.60,120.59 L518.14,124.11 L518.69,127.53 L519.24,130.86 L519.78,134.09 L520.33,137.25 L520.88,140.32 L521.42,143.32 L521.97,146.27 L522.51,149.15 L523.06,151.99 L523.61,154.78 L524.15,157.54 L524.70,160.27 L525.25,162.98 L525.79,165.66 L526.34,168.32 L526.88,170.95 L527.43,173.53 L527.98,176.07 L528.52,178.56 L529.07,180.99 L529.62,183.36 L530.16,185.66 L530.71,187.89 L531.25,190.04 L531.80,192.09 L532.35,194.06 L532.89,195.93 L533.44,197.69 L533.99,199.35 L534.53,200.89 L535.08,202.30 L535.62,203.60 L536.17,204.79 L536.72,205.88 L537.26,206.88 L537.81,207.80 L538.36,208.64 L538.90,209.42 L539.45,210.15 L540.00,210.83 L540.54,211.48 L541.09,212.09 L541.63,212.68 L542.18,213.24 L542.73,213.78 L543.27,214.29 L543.82,214.79 L544.37,215.27 L544.91,215.74 L545.46,216.19 L546.00,216.63 L546.55,217.07 L547.10,217.50 L547.64,217.93 L548.19,218.35 L548.74,218.78 L549.28,219.21 L549.83,219.65 L550.37,220.09 L550.92,220.54 L551.47,220.99 L552.01,221.46 L552.56,221.94 L553.11,222.44 L553.65,222.95 L554.20,223.47 L554.74,224.01 L555.29,224.58 L555.84,225.16 L556.38,225.77 L556.93,226.39 L557.48,227.03 L558.02,227.69 L558.57,228.36 L559.11,229.05 L559.66,229.75 L560.21,230.46 L560.75,231.18 L561.30,231.91 L561.85,232.65 L562.39,233.39 L562.94,234.14 L563.48,234.89 L564.03,235.64 L564.58,236.39 L565.12,237.14 L565.67,237.89 L566.22,238.63 L566.76,239.38 L567.31,240.11 L567.85,240.85 L568.40,241.57 L568.95,242.29 L569.49,243.00 L570.04,243.70 L570.59,244.39 L571.13,245.07 L571.68,245.73 L572.22,246.38 L572.77,247.02 L573.32,247.64 L573.86,248.24 L574.41,248.83 L574.96,249.39 L575.50,249.94 L576.05,250.45 L576.59,250.95 L577.14,251.41 L577.69,251.85 L578.23,252.25 L578.78,252.63 L579.33,252.96 L579.87,253.27 L580.42,253.53 L580.96,253.76 L581.51,253.94 L582.06,254.09 L582.60,254.19 L583.15,254.24 L583.70,254.26 L584.24,254.24 L584.79,254.17 L585.33,254.07 L585.88,253.93 L586.43,253.75 L586.97,253.54 L587.52,253.29 L588.07,253.01 L588.61,252.69 L589.16,252.33 L589.70,251.95 L590.25,251.53 L590.80,251.09 L591.34,250.61 L591.89,250.10 L592.43,249.57 L592.98,249.00 L593.53,248.42 L594.07,247.80 L594.62,247.17 L595.17,246.51 L595.71,245.83 L596.26,245.13 L596.81,244.41 L597.35,243.67 L597.90,242.92 L598.44,242.15 L598.99,241.36 L599.54,240.57 L600.08,239.76 L600.63,238.94 L601.17,238.10 L601.72,237.26 L602.27,236.41 L602.81,235.55 L603.36,234.68 L603.91,233.80 L604.45,232.92 L605.00,232.03 L605.54,231.14 L606.09,230.24 L606.64,229.34 L607.18,228.43 L607.73,227.52 L608.28,226.61 L608.82,225.69 L609.37,224.78 L609.91,223.87 L610.46,222.95 L611.01,222.04 L611.55,221.12 L612.10,220.21 L612.65,219.30 L613.19,218.39 L613.74,217.48 L614.28,216.57 L614.83,215.66 L615.38,214.76 L615.92,213.85 L616.47,212.94 L617.02,212.04 L617.56,211.14 L618.11,210.24 L618.65,209.33 L619.20,208.44 L619.75,207.54 L620.29,206.64 L620.84,205.75 L621.39,204.85 L621.93,203.96 L622.48,203.08 L623.02,202.21 L623.57,201.34 L624.12,200.48 L624.66,199.63 L625.21,198.80 L625.76,197.98 L626.30,197.17 L626.85,196.39 L627.39,195.62 L627.94,194.87 L628.49,194.14 L629.03,193.43 L629.58,192.75 L630.13,192.09 L630.67,191.46 L631.22,190.85 L631.76,190.28 L632.31,189.72 L632.86,189.19 L633.40,188.69 L633.95,188.20 L634.50,187.74 L635.04,187.29 L635.59,186.87 L636.13,186.46 L636.68,186.06 L637.23,185.69 L637.77,185.33 L638.32,185.00 L638.87,184.70 L639.41,184.42 L639.96,184.17 L640.50,183.95 L641.05,183.77 L641.60,183.63 L642.14,183.52 L642.69,183.46 L643.24,183.44 L643.78,183.47 L644.33,183.53 L644.88,183.63 L645.42,183.78 L645.97,183.96 L646.51,184.17 L647.06,184.42 L647.61,184.70 L648.15,185.01 L648.70,185.35 L649.25,185.72 L649.79,186.12 L650.34,186.56 L650.88,187.03 L651.43,187.53 L651.98,188.07 L652.52,188.65 L653.07,189.26 L653.62,189.92 L654.16,190.61 L654.71,191.33 L655.25,192.08 L655.80,192.86 L656.35,193.67 L656.89,194.51 L657.44,195.37 L657.99,196.24 L658.53,197.14 L659.08,198.05 L659.62,198.98 L660.17,199.92 L660.72,200.87 L661.26,201.83 L661.81,202.80 L662.36,203.78 L662.90,204.78 L663.45,205.81 L663.99,206.86 L664.54,207.95 L665.09,209.09 L665.63,210.26 L666.18,211.49 L666.73,212.77 L667.27,214.12 L667.82,215.52 L668.36,217.00 L668.91,218.56 L669.46,220.20 L670.00,221.91 L670.55,223.67 L671.10,225.46 L671.64,227.27 L672.19,229.07 L672.73,230.86 L673.28,232.62 L673.83,234.36 L674.37,236.07 L674.92,237.75 L675.47,239.40 L676.01,241.03 L676.56,242.62 L677.10,244.18 L677.65,245.70 L678.20,247.19 L678.74,248.64 L679.29,250.05 L679.84,251.43 L680.38,252.76 L680.93,254.05 L681.47,255.30 L682.02,256.51 L682.57,257.69 L683.11,258.82 L683.66,259.92 L684.21,260.98 L684.75,262.01 L685.30,263.00 L685.84,263.97 L686.39,264.90 L686.94,265.79 L687.48,266.66 L688.03,267.50 L688.58,268.32 L689.12,269.10 L689.67,269.86 L690.21,270.60 L690.76,271.30 L691.31,271.98 L691.85,272.64 L692.40,273.26 L692.94,273.86 L693.49,274.43 L694.04,274.98 L694.58,275.50 L695.13,275.99 L695.68,276.46 L696.22,276.90 L696.77,277.31 L697.32,277.70 L697.86,278.06 L698.41,278.40 L698.95,278.72 L699.50,279.01 L700.05,279.28 L700.59,279.53 L701.14,279.77 L701.68,279.98 L702.23,280.18 L702.78,280.37 L703.32,280.54 L703.87,280.70 L704.42,280.84 L704.96,280.98 L705.51,281.10 L706.06,281.22 L706.60,281.33 L707.15,281.43 L707.69,281.52 L708.24,281.61 L708.79,281.69 L709.33,281.77 L709.88,281.84 L710.42,281.90 L710.97,281.96 L711.52,282.02 L712.06,282.07 L712.61,282.11 L713.16,282.16 L713.70,282.20 L714.25,282.23 L714.80,282.27 L715.34,282.30 L715.89,282.33 L716.43,282.35 L716.98,282.38 L717.53,282.40 L718.07,282.43 L718.62,282.45 L719.16,282.47 L719.71,282.50 L720.26,282.52 L720.80,282.54 L721.35,282.56 L721.90,282.57 L722.44,282.59 L722.99,282.61 L723.53,282.62 L724.08,282.64 L724.63,282.65 L725.17,282.67 L725.72,282.68 L726.27,282.69 L726.81,282.71 L727.36,282.72 L727.90,282.73 L728.45,282.74 L729.00,282.75 L729.54,282.76 L730.09,282.77 L730.64,282.78 L731.18,282.78 L731.73,282.79 L732.27,282.80 L732.82,282.81 L733.37,282.81 L733.91,282.82 L734.46,282.83 L735.01,282.83 L735.55,282.84 L736.10,282.84 L736.64,282.85 L737.19,282.85 L737.74,282.86 L738.28,282.86 L738.83,282.87 L739.38,282.87 L739.92,282.88 L740.47,282.88 L741.01,282.89 L741.56,282.89 L742.11,282.90 L742.65,282.90 L743.20,282.90 L743.75,282.91 L744.29,282.91 L744.84,282.92 L745.38,282.92 L745.93,282.93 L746.48,282.93 L747.02,282.93 L747.57,282.94 L748.12,282.94 L748.66,282.95 L749.21,282.95 L749.75,282.96 L750.30,282.96 L750.85,282.96 L751.39,282.97 L751.94,282.97 L752.49,282.97 L753.03,282.98 L753.58,282.98 L754.12,282.99 L754.67,282.99 L755.22,282.99 L755.76,283.00 L756.31,283.00 L756.86,283.00 L757.40,283.01 L757.95,283.01 L758.50,283.02 L759.04,283.02 L759.59,283.02 L760.13,283.03 L760.68,283.03 L761.23,283.03 L761.77,283.04 L762.32,283.04 L762.87,283.04 L763.41,283.05 L763.96,283.05 L764.50,283.05 L765.05,283.06 L765.60,283.06 L766.14,283.06 L766.69,283.07 L767.24,283.07 L767.78,283.07 L768.33,283.08 L768.87,283.08 L769.42,283.08 L769.97,283.09 L770.51,283.09 L771.06,283.09 L771.61,283.09 L772.15,283.10 L772.70,283.10 L773.24,283.10 L773.79,283.11 L774.34,283.11 L774.88,283.11 L775.43,283.12 L775.98,283.12 L776.52,283.12 L777.07,283.12 L777.61,283.13 L778.16,283.13 L778.71,283.13 L779.25,283.14 L779.80,283.14 L780.35,283.14 L780.89,283.14 L781.44,283.15 L781.98,283.15 L782.53,283.15 L783.08,283.16 L783.62,283.16 L784.17,283.16 L784.72,283.16 L785.26,283.17 L785.81,283.17 L786.35,283.17 L786.90,283.17 L787.45,283.18 L787.99,283.18 L788.54,283.18 L789.09,283.18 L789.63,283.19 L790.18,283.19 L790.72,283.19 L791.27,283.19 L791.82,283.20 L792.36,283.20 L792.91,283.20 L793.45,283.20 L794.00,283.21 L794.55,283.21 L795.09,283.21 L795.64,283.21 L796.19,283.22 L796.73,283.22 L797.28,283.22 L797.83,283.22 L798.37,283.23 L798.92,283.23 L799.46,283.23 L800.01,283.23 L800.56,283.24 L801.10,283.24 L801.65,283.24 L802.19,283.24 L802.74,283.25 L803.29,283.25 L803.83,283.25 L804.38,283.25 L804.93,283.26 L805.47,283.26 L806.02,283.26 L806.57,283.26 L807.11,283.27 L807.66,283.27 L808.20,283.27 L808.75,283.27" stroke="#f2303f"/>
<path d="M459.15,170.78 L459.70,170.34 L460.24,169.86 L460.79,169.31 L461.33,168.67 L461.88,167.92 L462.43,167.05 L462.97,166.06 L463.52,164.91 L464.07,163.61 L464.61,162.14 L465.16,160.47 L465.70,158.61 L466.25,156.58 L466.80,154.40 L467.34,152.10 L467.89,149.70 L468.44,147.24 L468.98,144.75 L469.53,142.25 L470.07,139.77 L470.62,137.30 L471.17,134.83 L471.71,132.32 L472.26,129.77 L472.81,127.14 L473.35,124.41 L473.90,121.57 L474.44,118.59 L474.99,115.44 L475.54,112.10 L476.08,108.55 L476.63,104.75 L477.18,100.79 L477.72,96.74 L478.27,92.68 L478.81,88.69 L479.36,84.85 L479.91,81.13 L480.45,77.50 L481.00,73.92 L481.55,70.33 L482.09,66.74 L482.64,63.17 L483.19,59.63 L483.73,56.16 L484.28,52.77 L484.82,49.48 L485.37,46.32 L485.92,43.30 L486.46,40.45 L487.01,37.79 L487.56,35.32 L488.10,33.09 L488.65,31.09 L489.19,29.36 L489.74,27.90 L490.29,26.71 L490.83,25.76 L491.38,25.02 L491.93,24.48 L492.47,24.10 L493.02,23.89 L493.56,23.85 L494.11,23.97 L494.66,24.26 L495.20,24.71 L495.75,25.32 L496.30,26.09 L496.84,27.01 L497.39,28.09 L497.93,29.29 L498.48,30.62 L499.03,32.05 L499.57,33.57 L500.12,35.18 L500.67,36.85 L501.21,38.57 L501.76,40.35 L502.30,42.19 L502.85,44.07 L503.40,46.00 L503.94,47.98 L504.49,50.01 L505.04,52.08 L505.58,54.22 L506.13,56.45 L506.67,58.80 L507.22,61.28 L507.77,63.94 L508.31,66.78 L508.86,69.84 L509.40,73.12 L509.95,76.55 L510.50,80.11 L511.04,83.75 L511.59,87.42 L512.14,91.08 L512.68,94.70 L513.23,98.25 L513.77,101.74 L514.32,105.16 L514.87,108.53 L515.41,111.83 L515.96,115.06 L516.51,118.23 L517.05,121.33 L517.60,124.36 L518.14,127.33 L518.69,130.22 L519.24,133.04 L519.78,135.81 L520.33,138.51 L520.88,141.17 L521.42,143.79 L521.97,146.38 L522.51,148.94 L523.06,151.48 L523.61,154.01 L524.15,156.54 L524.70,159.07 L525.25,161.61 L525.79,164.15 L526.34,166.70 L526.88,169.24 L527.43,171.77 L527.98,174.26 L528.52,176.73 L529.07,179.16 L529.62,181.53 L530.16,183.85 L530.71,186.10 L531.25,188.28 L531.80,190.38 L532.35,192.39 L532.89,194.29 L533.44,196.09 L533.99,197.78 L534.53,199.34 L535.08,200.77 L535.62,202.07 L536.17,203.26 L536.72,204.33 L537.26,205.31 L537.81,206.21 L538.36,207.02 L538.90,207.77 L539.45,208.47 L540.00,209.12 L540.54,209.74 L541.09,210.33 L541.63,210.89 L542.18,211.43 L542.73,211.95 L543.27,212.45 L543.82,212.92 L544.37,213.39 L544.91,213.84 L545.46,214.27 L546.00,214.70 L546.55,215.12 L547.10,215.53 L547.64,215.94 L548.19,216.35 L548.74,216.75 L549.28,217.16 L549.83,217.58 L550.37,218.00 L550.92,218.42 L551.47,218.86 L552.01,219.30 L552.56,219.76 L553.11,220.23 L553.65,220.72 L554.20,221.23 L554.74,221.75 L555.29,222.30 L555.84,222.87 L556.38,223.46 L556.93,224.07 L557.48,224.70 L558.02,225.35 L558.57,226.02 L559.11,226.70 L559.66,227.40 L560.21,228.11 L560.75,228.83 L561.30,229.56 L561.85,230.30 L562.39,231.04 L562.94,231.79 L563.48,232.55 L564.03,233.30 L564.58,234.06 L565.12,234.82 L565.67,235.58 L566.22,236.33 L566.76,237.09 L567.31,237.84 L567.85,238.58 L568.40,239.32 L568.95,240.05 L569.49,240.77 L570.04,241.48 L570.59,242.18 L571.13,242.87 L571.68,243.55 L572.22,244.21 L572.77,244.86 L573.32,245.49 L573.86,246.10 L574.41,246.70 L574.96,247.27 L575.50,247.82 L576.05,248.34 L576.59,248.84 L577.14,249.31 L577.69,249.75 L578.23,250.17 L578.78,250.54 L579.33,250.89 L579.87,251.19 L580.42,251.46 L580.96,251.69 L581.51,251.88 L582.06,252.03 L582.60,252.13 L583.15,252.19 L583.70,252.21 L584.24,252.19 L584.79,252.13 L585.33,252.03 L585.88,251.89 L586.43,251.71 L586.97,251.49 L587.52,251.23 L588.07,250.94 L588.61,250.62 L589.16,250.25 L589.70,249.86 L590.25,249.43 L590.80,248.96 L591.34,248.47 L591.89,247.94 L592.43,247.38 L592.98,246.79 L593.53,246.18 L594.07,245.54 L594.62,244.87 L595.17,244.18 L595.71,243.47 L596.26,242.73 L596.81,241.98 L597.35,241.21 L597.90,240.41 L598.44,239.61 L598.99,238.78 L599.54,237.95 L600.08,237.10 L600.63,236.24 L601.17,235.37 L601.72,234.49 L602.27,233.60 L602.81,232.70 L603.36,231.79 L603.91,230.88 L604.45,229.96 L605.00,229.03 L605.54,228.10 L606.09,227.16 L606.64,226.22 L607.18,225.27 L607.73,224.33 L608.28,223.38 L608.82,222.43 L609.37,221.48 L609.91,220.53 L610.46,219.58 L611.01,218.63 L611.55,217.68 L612.10,216.74 L612.65,215.79 L613.19,214.85 L613.74,213.91 L614.28,212.97 L614.83,212.03 L615.38,211.09 L615.92,210.15 L616.47,209.22 L617.02,208.28 L617.56,207.35 L618.11,206.42 L618.65,205.49 L619.20,204.57 L619.75,203.64 L620.29,202.72 L620.84,201.80 L621.39,200.88 L621.93,199.97 L622.48,199.06 L623.02,198.16 L623.57,197.27 L624.12,196.39 L624.66,195.52 L625.21,194.67 L625.76,193.83 L626.30,193.01 L626.85,192.20 L627.39,191.42 L627.94,190.65 L628.49,189.91 L629.03,189.19 L629.58,188.50 L630.13,187.83 L630.67,187.20 L631.22,186.59 L631.76,186.01 L632.31,185.45 L632.86,184.92 L633.40,184.42 L633.95,183.93 L634.50,183.47 L635.04,183.03 L635.59,182.61 L636.13,182.21 L636.68,181.82 L637.23,181.45 L637.77,181.11 L638.32,180.79 L638.87,180.49 L639.41,180.23 L639.96,179.99 L640.50,179.79 L641.05,179.63 L641.60,179.50 L642.14,179.41 L642.69,179.37 L643.24,179.37 L643.78,179.42 L644.33,179.51 L644.88,179.64 L645.42,179.80 L645.97,180.01 L646.51,180.25 L647.06,180.53 L647.61,180.84 L648.15,181.18 L648.70,181.56 L649.25,181.96 L649.79,182.40 L650.34,182.87 L650.88,183.37 L651.43,183.91 L651.98,184.49 L652.52,185.11 L653.07,185.77 L653.62,186.46 L654.16,187.19 L654.71,187.96 L655.25,188.76 L655.80,189.59 L656.35,190.45 L656.89,191.33 L657.44,192.24 L657.99,193.16 L658.53,194.11 L659.08,195.07 L659.62,196.05 L660.17,197.04 L660.72,198.04 L661.26,199.04 L661.81,200.06 L662.36,201.08 L662.90,202.13 L663.45,203.20 L663.99,204.31 L664.54,205.45 L665.09,206.63 L665.63,207.85 L666.18,209.13 L666.73,210.47 L667.27,211.87 L667.82,213.34 L668.36,214.88 L668.91,216.50 L669.46,218.20 L670.00,219.98 L670.55,221.81 L671.10,223.68 L671.64,225.56 L672.19,227.43 L672.73,229.28 L673.28,231.11 L673.83,232.91 L674.37,234.68 L674.92,236.42 L675.47,238.13 L676.01,239.81 L676.56,241.45 L677.10,243.06 L677.65,244.63 L678.20,246.17 L678.74,247.66 L679.29,249.12 L679.84,250.54 L680.38,251.91 L680.93,253.24 L681.47,254.53 L682.02,255.78 L682.57,256.99 L683.11,258.15 L683.66,259.29 L684.21,260.38 L684.75,261.44 L685.30,262.46 L685.84,263.45 L686.39,264.41 L686.94,265.34 L687.48,266.23 L688.03,267.10 L688.58,267.93 L689.12,268.74 L689.67,269.52 L690.21,270.28 L690.76,271.00 L691.31,271.70 L691.85,272.37 L692.40,273.01 L692.94,273.63 L693.49,274.22 L694.04,274.78 L694.58,275.31 L695.13,275.82 L695.68,276.29 L696.22,276.74 L696.77,277.17 L697.32,277.56 L697.86,277.94 L698.41,278.28 L698.95,278.60 L699.50,278.90 L700.05,279.18 L700.59,279.44 L701.14,279.68 L701.68,279.90 L702.23,280.10 L702.78,280.29 L703.32,280.47 L703.87,280.63 L704.42,280.78 L704.96,280.91 L705.51,281.04 L706.06,281.16 L706.60,281.27 L707.15,281.38 L707.69,281.47 L708.24,281.56 L708.79,281.65 L709.33,281.72 L709.88,281.79 L710.42,281.86 L710.97,281.92 L711.52,281.98 L712.06,282.03 L712.61,282.08 L713.16,282.12 L713.70,282.16 L714.25,282.20 L714.80,282.23 L715.34,282.26 L715.89,282.29 L716.43,282.32 L716.98,282.35 L717.53,282.37 L718.07,282.40 L718.62,282.42 L719.16,282.45 L719.71,282.47 L720.26,282.49 L720.80,282.51 L721.35,282.53 L721.90,282.55 L722.44,282.57 L722.99,282.58 L723.53,282.60 L724.08,282.62 L724.63,282.63 L725.17,282.64 L725.72,282.66 L726.27,282.67 L726.81,282.68 L727.36,282.70 L727.90,282.71 L728.45,282.72 L729.00,282.73 L729.54,282.74 L730.09,282.75 L730.64,282.76 L731.18,282.76 L731.73,282.77 L732.27,282.78 L732.82,282.79 L733.37,282.79 L733.91,282.80 L734.46,282.81 L735.01,282.81 L735.55,282.82 L736.10,282.83 L736.64,282.83 L737.19,282.84 L737.74,282.84 L738.28,282.85 L738.83,282.85 L739.38,282.86 L739.92,282.86 L740.47,282.87 L741.01,282.87 L741.56,282.88 L742.11,282.88 L742.65,282.88 L743.20,282.89 L743.75,282.89 L744.29,282.90 L744.84,282.90 L745.38,282.91 L745.93,282.91 L746.48,282.92 L747.02,282.92 L747.57,282.92 L748.12,282.93 L748.66,282.93 L749.21,282.94 L749.75,282.94 L750.30,282.95 L750.85,282.95 L751.39,282.95 L751.94,282.96 L752.49,282.96 L753.03,282.97 L753.58,282.97 L754.12,282.97 L754.67,282.98 L755.22,282.98 L755.76,282.99 L756.31,282.99 L756.86,282.99 L757.40,283.00 L757.95,283.00 L758.50,283.00 L759.04,283.01 L759.59,283.01 L760.13,283.02 L760.68,283.02 L761.23,283.02 L761.77,283.03 L762.32,283.03 L762.87,283.03 L763.41,283.04 L763.96,283.04 L764.50,283.04 L765.05,283.05 L765.60,283.05 L766.14,283.05 L766.69,283.06 L767.24,283.06 L767.78,283.06 L768.33,283.07 L768.87,283.07 L769.42,283.07 L769.97,283.08 L770.51,283.08 L771.06,283.08 L771.61,283.09 L772.15,283.09 L772.70,283.09 L773.24,283.10 L773.79,283.10 L774.34,283.10 L774.88,283.11 L775.43,283.11 L775.98,283.11 L776.52,283.11 L777.07,283.12 L777.61,283.12 L778.16,283.12 L778.71,283.13 L779.25,283.13 L779.80,283.13 L780.35,283.14 L780.89,283.14 L781.44,283.14 L781.98,283.14 L782.53,283.15 L783.08,283.15 L783.62,283.15 L784.17,283.16 L784.72,283.16 L785.26,283.16 L785.81,283.16 L786.35,283.17 L786.90,283.17 L787.45,283.17 L787.99,283.17 L788.54,283.18 L789.09,283.18 L789.63,283.18 L790.18,283.19 L790.72,283.19 L791.27,283.19 L791.82,283.19 L792.36,283.20 L792.91,283.20 L793.45,283.20 L794.00,283.20 L794.55,283.21 L795.09,283.21 L795.64,283.21 L796.19,283.21 L796.73,283.22 L797.28,283.22 L797.83,283.22 L798.37,283.22 L798.92,283.23 L799.46,283.23 L800.01,283.23 L800.56,283.23 L801.10,283.24 L801.65,283.24 L802.19,283.24 L802.74,283.25 L803.29,283.25 L803.83,283.25 L804.38,283.25 L804.93,283.26 L805.47,283.26 L806.02,283.26 L806.57,283.26 L807.11,283.27 L807.66,283.27 L808.20,283.27 L808.75,283.27" stroke="#3b6cf4"/>
<path d="M459.15,162.37 L459.70,162.06 L460.24,161.69 L460.79,161.22 L461.33,160.63 L461.88,159.91 L462.43,159.07 L462.97,158.08 L463.52,156.95 L464.07,155.67 L464.61,154.23 L465.16,152.64 L465.70,150.92 L466.25,149.09 L466.80,147.15 L467.34,145.11 L467.89,143.00 L468.44,140.83 L468.98,138.60 L469.53,136.32 L470.07,133.99 L470.62,131.60 L471.17,129.13 L471.71,126.60 L472.26,123.98 L472.81,121.29 L473.35,118.50 L473.90,115.62 L474.44,112.67 L474.99,109.64 L475.54,106.57 L476.08,103.45 L476.63,100.30 L477.18,97.13 L477.72,93.96 L478.27,90.79 L478.81,87.64 L479.36,84.49 L479.91,81.36 L480.45,78.22 L481.00,75.08 L481.55,71.94 L482.09,68.77 L482.64,65.59 L483.19,62.38 L483.73,59.15 L484.28,55.94 L484.82,52.81 L485.37,49.80 L485.92,46.96 L486.46,44.36 L487.01,42.05 L487.56,40.03 L488.10,38.30 L488.65,36.83 L489.19,35.60 L489.74,34.58 L490.29,33.76 L490.83,33.12 L491.38,32.63 L491.93,32.30 L492.47,32.10 L493.02,32.04 L493.56,32.09 L494.11,32.25 L494.66,32.51 L495.20,32.88 L495.75,33.35 L496.30,33.94 L496.84,34.64 L497.39,35.46 L497.93,36.40 L498.48,37.46 L499.03,38.65 L499.57,39.96 L500.12,41.39 L500.67,42.93 L501.21,44.58 L501.76,46.34 L502.30,48.19 L502.85,50.14 L503.40,52.18 L503.94,54.31 L504.49,56.53 L505.04,58.83 L505.58,61.24 L506.13,63.75 L506.67,66.37 L507.22,69.09 L507.77,71.93 L508.31,74.88 L508.86,77.93 L509.40,81.07 L509.95,84.27 L510.50,87.52 L511.04,90.82 L511.59,94.14 L512.14,97.48 L512.68,100.82 L513.23,104.17 L513.77,107.51 L514.32,110.83 L514.87,114.14 L515.41,117.42 L515.96,120.67 L516.51,123.87 L517.05,127.03 L517.60,130.13 L518.14,133.18 L518.69,136.15 L519.24,139.05 L519.78,141.88 L520.33,144.65 L520.88,147.37 L521.42,150.04 L521.97,152.67 L522.51,155.26 L523.06,157.82 L523.61,160.36 L524.15,162.88 L524.70,165.39 L525.25,167.90 L525.79,170.40 L526.34,172.88 L526.88,175.35 L527.43,177.79 L527.98,180.20 L528.52,182.58 L529.07,184.90 L529.62,187.17 L530.16,189.39 L530.71,191.54 L531.25,193.61 L531.80,195.61 L532.35,197.52 L532.89,199.34 L533.44,201.06 L533.99,202.68 L534.53,204.18 L535.08,205.56 L535.62,206.83 L536.17,208.00 L536.72,209.06 L537.26,210.03 L537.81,210.93 L538.36,211.75 L538.90,212.51 L539.45,213.21 L540.00,213.87 L540.54,214.49 L541.09,215.08 L541.63,215.64 L542.18,216.18 L542.73,216.69 L543.27,217.18 L543.82,217.65 L544.37,218.11 L544.91,218.55 L545.46,218.98 L546.00,219.41 L546.55,219.83 L547.10,220.24 L547.64,220.66 L548.19,221.07 L548.74,221.49 L549.28,221.92 L549.83,222.36 L550.37,222.80 L550.92,223.25 L551.47,223.71 L552.01,224.19 L552.56,224.67 L553.11,225.17 L553.65,225.69 L554.20,226.22 L554.74,226.76 L555.29,227.33 L555.84,227.91 L556.38,228.51 L556.93,229.13 L557.48,229.76 L558.02,230.41 L558.57,231.07 L559.11,231.75 L559.66,232.43 L560.21,233.13 L560.75,233.83 L561.30,234.55 L561.85,235.26 L562.39,235.99 L562.94,236.71 L563.48,237.44 L564.03,238.17 L564.58,238.90 L565.12,239.63 L565.67,240.35 L566.22,241.08 L566.76,241.80 L567.31,242.51 L567.85,243.22 L568.40,243.93 L568.95,244.62 L569.49,245.31 L570.04,245.99 L570.59,246.65 L571.13,247.31 L571.68,247.96 L572.22,248.59 L572.77,249.20 L573.32,249.80 L573.86,250.39 L574.41,250.96 L574.96,251.50 L575.50,252.03 L576.05,252.53 L576.59,253.01 L577.14,253.45 L577.69,253.88 L578.23,254.27 L578.78,254.63 L579.33,254.96 L579.87,255.25 L580.42,255.50 L580.96,255.72 L581.51,255.90 L582.06,256.03 L582.60,256.13 L583.15,256.18 L583.70,256.19 L584.24,256.17 L584.79,256.11 L585.33,256.00 L585.88,255.87 L586.43,255.69 L586.97,255.48 L587.52,255.24 L588.07,254.97 L588.61,254.66 L589.16,254.32 L589.70,253.95 L590.25,253.55 L590.80,253.12 L591.34,252.66 L591.89,252.17 L592.43,251.66 L592.98,251.13 L593.53,250.57 L594.07,249.98 L594.62,249.38 L595.17,248.75 L595.71,248.10 L596.26,247.43 L596.81,246.75 L597.35,246.05 L597.90,245.33 L598.44,244.60 L598.99,243.85 L599.54,243.09 L600.08,242.32 L600.63,241.53 L601.17,240.74 L601.72,239.94 L602.27,239.12 L602.81,238.30 L603.36,237.47 L603.91,236.63 L604.45,235.79 L605.00,234.94 L605.54,234.08 L606.09,233.22 L606.64,232.36 L607.18,231.49 L607.73,230.61 L608.28,229.74 L608.82,228.86 L609.37,227.98 L609.91,227.10 L610.46,226.22 L611.01,225.34 L611.55,224.46 L612.10,223.58 L612.65,222.71 L613.19,221.83 L613.74,220.95 L614.28,220.07 L614.83,219.19 L615.38,218.32 L615.92,217.44 L616.47,216.57 L617.02,215.69 L617.56,214.82 L618.11,213.95 L618.65,213.08 L619.20,212.21 L619.75,211.34 L620.29,210.47 L620.84,209.60 L621.39,208.74 L621.93,207.88 L622.48,207.02 L623.02,206.17 L623.57,205.33 L624.12,204.50 L624.66,203.67 L625.21,202.86 L625.76,202.06 L626.30,201.28 L626.85,200.51 L627.39,199.76 L627.94,199.03 L628.49,198.31 L629.03,197.62 L629.58,196.94 L630.13,196.30 L630.67,195.67 L631.22,195.07 L631.76,194.50 L632.31,193.94 L632.86,193.42 L633.40,192.91 L633.95,192.42 L634.50,191.95 L635.04,191.50 L635.59,191.07 L636.13,190.66 L636.68,190.26 L637.23,189.88 L637.77,189.52 L638.32,189.18 L638.87,188.87 L639.41,188.59 L639.96,188.33 L640.50,188.11 L641.05,187.92 L641.60,187.76 L642.14,187.65 L642.69,187.57 L643.24,187.54 L643.78,187.54 L644.33,187.59 L644.88,187.68 L645.42,187.80 L645.97,187.96 L646.51,188.15 L647.06,188.38 L647.61,188.64 L648.15,188.93 L648.70,189.25 L649.25,189.60 L649.79,189.98 L650.34,190.39 L650.88,190.84 L651.43,191.32 L651.98,191.83 L652.52,192.37 L653.07,192.95 L653.62,193.57 L654.16,194.22 L654.71,194.89 L655.25,195.60 L655.80,196.34 L656.35,197.10 L656.89,197.89 L657.44,198.70 L657.99,199.53 L658.53,200.38 L659.08,201.25 L659.62,202.13 L660.17,203.03 L660.72,203.95 L661.26,204.87 L661.81,205.81 L662.36,206.77 L662.90,207.74 L663.45,208.74 L663.99,209.77 L664.54,210.84 L665.09,211.94 L665.63,213.08 L666.18,214.27 L666.73,215.51 L667.27,216.80 L667.82,218.15 L668.36,219.56 L668.91,221.04 L669.46,222.58 L670.00,224.19 L670.55,225.85 L671.10,227.54 L671.64,229.24 L672.19,230.95 L672.73,232.64 L673.28,234.32 L673.83,235.98 L674.37,237.62 L674.92,239.24 L675.47,240.83 L676.01,242.40 L676.56,243.94 L677.10,245.46 L677.65,246.94 L678.20,248.39 L678.74,249.80 L679.29,251.18 L679.84,252.51 L680.38,253.81 L680.93,255.07 L681.47,256.28 L682.02,257.45 L682.57,258.59 L683.11,259.69 L683.66,260.75 L684.21,261.77 L684.75,262.77 L685.30,263.72 L685.84,264.65 L686.39,265.55 L686.94,266.41 L687.48,267.25 L688.03,268.06 L688.58,268.84 L689.12,269.60 L689.67,270.33 L690.21,271.04 L690.76,271.72 L691.31,272.37 L691.85,273.00 L692.40,273.61 L692.94,274.19 L693.49,274.74 L694.04,275.27 L694.58,275.77 L695.13,276.25 L695.68,276.70 L696.22,277.12 L696.77,277.52 L697.32,277.90 L697.86,278.25 L698.41,278.57 L698.95,278.88 L699.50,279.16 L700.05,279.43 L700.59,279.67 L701.14,279.90 L701.68,280.11 L702.23,280.30 L702.78,280.48 L703.32,280.65 L703.87,280.80 L704.42,280.94 L704.96,281.07 L705.51,281.20 L706.06,281.31 L706.60,281.42 L707.15,281.51 L707.69,281.61 L708.24,281.69 L708.79,281.77 L709.33,281.84 L709.88,281.91 L710.42,281.97 L710.97,282.03 L711.52,282.08 L712.06,282.13 L712.61,282.17 L713.16,282.21 L713.70,282.25 L714.25,282.29 L714.80,282.32 L715.34,282.35 L715.89,282.38 L716.43,282.40 L716.98,282.43 L717.53,282.45 L718.07,282.48 L718.62,282.50 L719.16,282.52 L719.71,282.54 L720.26,282.56 L720.80,282.58 L721.35,282.60 L721.90,282.61 L722.44,282.63 L722.99,282.65 L723.53,282.66 L724.08,282.68 L724.63,282.69 L725.17,282.70 L725.72,282.72 L726.27,282.73 L726.81,282.74 L727.36,282.75 L727.90,282.76 L728.45,282.77 L729.00,282.78 L729.54,282.79 L730.09,282.80 L730.64,282.81 L731.18,282.81 L731.73,282.82 L732.27,282.83 L732.82,282.84 L733.37,282.84 L733.91,282.85 L734.46,282.85 L735.01,282.86 L735.55,282.87 L736.10,282.87 L736.64,282.88 L737.19,282.88 L737.74,282.89 L738.28,282.89 L738.83,282.89 L739.38,282.90 L739.92,282.90 L740.47,282.91 L741.01,282.91 L741.56,282.92 L742.11,282.92 L742.65,282.92 L743.20,282.93 L743.75,282.93 L744.29,282.94 L744.84,282.94 L745.38,282.95 L745.93,282.95 L746.48,282.95 L747.02,282.96 L747.57,282.96 L748.12,282.97 L748.66,282.97 L749.21,282.97 L749.75,282.98 L750.30,282.98 L750.85,282.98 L751.39,282.99 L751.94,282.99 L752.49,283.00 L753.03,283.00 L753.58,283.00 L754.12,283.01 L754.67,283.01 L755.22,283.01 L755.76,283.02 L756.31,283.02 L756.86,283.02 L757.40,283.03 L757.95,283.03 L758.50,283.03 L759.04,283.04 L759.59,283.04 L760.13,283.04 L760.68,283.05 L761.23,283.05 L761.77,283.05 L762.32,283.06 L762.87,283.06 L763.41,283.06 L763.96,283.07 L764.50,283.07 L765.05,283.07 L765.60,283.08 L766.14,283.08 L766.69,283.08 L767.24,283.08 L767.78,283.09 L768.33,283.09 L768.87,283.09 L769.42,283.10 L769.97,283.10 L770.51,283.10 L771.06,283.11 L771.61,283.11 L772.15,283.11 L772.70,283.11 L773.24,283.12 L773.79,283.12 L774.34,283.12 L774.88,283.13 L775.43,283.13 L775.98,283.13 L776.52,283.13 L777.07,283.14 L777.61,283.14 L778.16,283.14 L778.71,283.14 L779.25,283.15 L779.80,283.15 L780.35,283.15 L780.89,283.15 L781.44,283.16 L781.98,283.16 L782.53,283.16 L783.08,283.16 L783.62,283.17 L784.17,283.17 L784.72,283.17 L785.26,283.17 L785.81,283.18 L786.35,283.18 L786.90,283.18 L787.45,283.18 L787.99,283.19 L788.54,283.19 L789.09,283.19 L789.63,283.19 L790.18,283.20 L790.72,283.20 L791.27,283.20 L791.82,283.20 L792.36,283.21 L792.91,283.21 L793.45,283.21 L794.00,283.21 L794.55,283.21 L795.09,283.22 L795.64,283.22 L796.19,283.22 L796.73,283.22 L797.28,283.23 L797.83,283.23 L798.37,283.23 L798.92,283.23 L799.46,283.24 L800.01,283.24 L800.56,283.24 L801.10,283.24 L801.65,283.24 L802.19,283.25 L802.74,283.25 L803.29,283.25 L803.83,283.25 L804.38,283.26 L804.93,283.26 L805.47,283.26 L806.02,283.26 L806.57,283.26 L807.11,283.27 L807.66,283.27 L808.20,283.27 L808.75,283.27" stroke="#35dd35"/>
<path d="M459.15,168.19 L459.70,167.86 L460.24,167.47 L460.79,167.00 L461.33,166.42 L461.88,165.75 L462.43,164.98 L462.97,164.10 L463.52,163.12 L464.07,162.03 L464.61,160.82 L465.16,159.51 L465.70,158.08 L466.25,156.54 L466.80,154.90 L467.34,153.17 L467.89,151.35 L468.44,149.46 L468.98,147.50 L469.53,145.48 L470.07,143.41 L470.62,141.30 L471.17,139.15 L471.71,136.96 L472.26,134.71 L472.81,132.38 L473.35,129.94 L473.90,127.39 L474.44,124.69 L474.99,121.82 L475.54,118.78 L476.08,115.54 L476.63,112.13 L477.18,108.61 L477.72,104.99 L478.27,101.33 L478.81,97.65 L479.36,93.98 L479.91,90.30 L480.45,86.61 L481.00,82.92 L481.55,79.27 L482.09,75.68 L482.64,72.18 L483.19,68.80 L483.73,65.57 L484.28,62.51 L484.82,59.64 L485.37,56.96 L485.92,54.46 L486.46,52.12 L487.01,49.94 L487.56,47.91 L488.10,46.01 L488.65,44.24 L489.19,42.59 L489.74,41.06 L490.29,39.64 L490.83,38.37 L491.38,37.26 L491.93,36.32 L492.47,35.58 L493.02,35.06 L493.56,34.76 L494.11,34.73 L494.66,34.94 L495.20,35.38 L495.75,36.02 L496.30,36.84 L496.84,37.80 L497.39,38.89 L497.93,40.08 L498.48,41.34 L499.03,42.65 L499.57,44.01 L500.12,45.42 L500.67,46.89 L501.21,48.43 L501.76,50.04 L502.30,51.72 L502.85,53.48 L503.40,55.32 L503.94,57.25 L504.49,59.27 L505.04,61.41 L505.58,63.67 L506.13,66.06 L506.67,68.60 L507.22,71.30 L507.77,74.17 L508.31,77.20 L508.86,80.38 L509.40,83.65 L509.95,87.00 L510.50,90.39 L511.04,93.80 L511.59,97.19 L512.14,100.58 L512.68,103.95 L513.23,107.30 L513.77,110.63 L514.32,113.93 L514.87,117.20 L515.41,120.43 L515.96,123.63 L516.51,126.77 L517.05,129.87 L517.60,132.91 L518.14,135.90 L518.69,138.82 L519.24,141.67 L519.78,144.47 L520.33,147.21 L520.88,149.91 L521.42,152.56 L521.97,155.17 L522.51,157.76 L523.06,160.32 L523.61,162.86 L524.15,165.39 L524.70,167.91 L525.25,170.42 L525.79,172.94 L526.34,175.44 L526.88,177.93 L527.43,180.39 L527.98,182.82 L528.52,185.22 L529.07,187.57 L529.62,189.87 L530.16,192.11 L530.71,194.28 L531.25,196.39 L531.80,198.41 L532.35,200.35 L532.89,202.20 L533.44,203.95 L533.99,205.59 L534.53,207.12 L535.08,208.53 L535.62,209.83 L536.17,211.01 L536.72,212.10 L537.26,213.10 L537.81,214.02 L538.36,214.87 L538.90,215.66 L539.45,216.40 L540.00,217.10 L540.54,217.76 L541.09,218.39 L541.63,219.00 L542.18,219.58 L542.73,220.14 L543.27,220.67 L543.82,221.19 L544.37,221.69 L544.91,222.17 L545.46,222.64 L546.00,223.09 L546.55,223.53 L547.10,223.97 L547.64,224.39 L548.19,224.81 L548.74,225.23 L549.28,225.64 L549.83,226.06 L550.37,226.47 L550.92,226.89 L551.47,227.31 L552.01,227.73 L552.56,228.17 L553.11,228.62 L553.65,229.07 L554.20,229.55 L554.74,230.03 L555.29,230.54 L555.84,231.06 L556.38,231.61 L556.93,232.17 L557.48,232.75 L558.02,233.34 L558.57,233.95 L559.11,234.57 L559.66,235.20 L560.21,235.85 L560.75,236.50 L561.30,237.16 L561.85,237.82 L562.39,238.49 L562.94,239.17 L563.48,239.84 L564.03,240.52 L564.58,241.20 L565.12,241.88 L565.67,242.55 L566.22,243.23 L566.76,243.90 L567.31,244.56 L567.85,245.22 L568.40,245.88 L568.95,246.53 L569.49,247.17 L570.04,247.80 L570.59,248.42 L571.13,249.04 L571.68,249.64 L572.22,250.22 L572.77,250.80 L573.32,251.36 L573.86,251.91 L574.41,252.44 L574.96,252.95 L575.50,253.44 L576.05,253.90 L576.59,254.35 L577.14,254.77 L577.69,255.16 L578.23,255.52 L578.78,255.86 L579.33,256.16 L579.87,256.43 L580.42,256.67 L580.96,256.87 L581.51,257.03 L582.06,257.15 L582.60,257.24 L583.15,257.28 L583.70,257.29 L584.24,257.26 L584.79,257.19 L585.33,257.09 L585.88,256.95 L586.43,256.78 L586.97,256.57 L587.52,256.34 L588.07,256.07 L588.61,255.77 L589.16,255.43 L589.70,255.07 L590.25,254.68 L590.80,254.26 L591.34,253.82 L591.89,253.35 L592.43,252.85 L592.98,252.33 L593.53,251.78 L594.07,251.21 L594.62,250.62 L595.17,250.01 L595.71,249.38 L596.26,248.73 L596.81,248.06 L597.35,247.38 L597.90,246.68 L598.44,245.96 L598.99,245.23 L599.54,244.49 L600.08,243.74 L600.63,242.97 L601.17,242.20 L601.72,241.41 L602.27,240.62 L602.81,239.82 L603.36,239.01 L603.91,238.19 L604.45,237.36 L605.00,236.53 L605.54,235.69 L606.09,234.85 L606.64,234.00 L607.18,233.15 L607.73,232.30 L608.28,231.44 L608.82,230.58 L609.37,229.72 L609.91,228.86 L610.46,228.00 L611.01,227.13 L611.55,226.27 L612.10,225.41 L612.65,224.54 L613.19,223.68 L613.74,222.82 L614.28,221.96 L614.83,221.09 L615.38,220.23 L615.92,219.37 L616.47,218.51 L617.02,217.65 L617.56,216.79 L618.11,215.93 L618.65,215.07 L619.20,214.21 L619.75,213.35 L620.29,212.49 L620.84,211.64 L621.39,210.78 L621.93,209.93 L622.48,209.09 L623.02,208.25 L623.57,207.41 L624.12,206.59 L624.66,205.77 L625.21,204.97 L625.76,204.18 L626.30,203.40 L626.85,202.64 L627.39,201.89 L627.94,201.16 L628.49,200.45 L629.03,199.76 L629.58,199.09 L630.13,198.44 L630.67,197.82 L631.22,197.22 L631.76,196.64 L632.31,196.09 L632.86,195.56 L633.40,195.05 L633.95,194.56 L634.50,194.08 L635.04,193.63 L635.59,193.19 L636.13,192.77 L636.68,192.36 L637.23,191.97 L637.77,191.60 L638.32,191.25 L638.87,190.93 L639.41,190.64 L639.96,190.37 L640.50,190.14 L641.05,189.94 L641.60,189.77 L642.14,189.65 L642.69,189.56 L643.24,189.53 L643.78,189.53 L644.33,189.57 L644.88,189.66 L645.42,189.78 L645.97,189.93 L646.51,190.13 L647.06,190.35 L647.61,190.61 L648.15,190.89 L648.70,191.21 L649.25,191.55 L649.79,191.93 L650.34,192.33 L650.88,192.77 L651.43,193.24 L651.98,193.74 L652.52,194.27 L653.07,194.84 L653.62,195.44 L654.16,196.08 L654.71,196.74 L655.25,197.44 L655.80,198.16 L656.35,198.90 L656.89,199.68 L657.44,200.47 L657.99,201.28 L658.53,202.12 L659.08,202.97 L659.62,203.84 L660.17,204.72 L660.72,205.61 L661.26,206.52 L661.81,207.44 L662.36,208.37 L662.90,209.33 L663.45,210.31 L663.99,211.32 L664.54,212.36 L665.09,213.44 L665.63,214.56 L666.18,215.72 L666.73,216.93 L667.27,218.20 L667.82,219.52 L668.36,220.90 L668.91,222.35 L669.46,223.87 L670.00,225.44 L670.55,227.07 L671.10,228.72 L671.64,230.39 L672.19,232.06 L672.73,233.72 L673.28,235.36 L673.83,236.99 L674.37,238.59 L674.92,240.18 L675.47,241.74 L676.01,243.28 L676.56,244.79 L677.10,246.27 L677.65,247.72 L678.20,249.14 L678.74,250.52 L679.29,251.87 L679.84,253.18 L680.38,254.45 L680.93,255.68 L681.47,256.86 L682.02,258.01 L682.57,259.13 L683.11,260.20 L683.66,261.24 L684.21,262.24 L684.75,263.21 L685.30,264.15 L685.84,265.06 L686.39,265.94 L686.94,266.78 L687.48,267.60 L688.03,268.40 L688.58,269.16 L689.12,269.90 L689.67,270.62 L690.21,271.31 L690.76,271.98 L691.31,272.62 L691.85,273.24 L692.40,273.83 L692.94,274.40 L693.49,274.94 L694.04,275.45 L694.58,275.95 L695.13,276.41 L695.68,276.85 L696.22,277.27 L696.77,277.66 L697.32,278.03 L697.86,278.37 L698.41,278.69 L698.95,278.99 L699.50,279.27 L700.05,279.53 L700.59,279.77 L701.14,279.99 L701.68,280.19 L702.23,280.38 L702.78,280.56 L703.32,280.72 L703.87,280.87 L704.42,281.01 L704.96,281.14 L705.51,281.26 L706.06,281.37 L706.60,281.47 L707.15,281.57 L707.69,281.66 L708.24,281.74 L708.79,281.82 L709.33,281.89 L709.88,281.95 L710.42,282.01 L710.97,282.07 L711.52,282.12 L712.06,282.17 L712.61,282.21 L713.16,282.25 L713.70,282.29 L714.25,282.32 L714.80,282.35 L715.34,282.38 L715.89,282.41 L716.43,282.43 L716.98,282.46 L717.53,282.48 L718.07,282.50 L718.62,282.53 L719.16,282.55 L719.71,282.57 L720.26,282.59 L720.80,282.61 L721.35,282.62 L721.90,282.64 L722.44,282.66 L722.99,282.67 L723.53,282.69 L724.08,282.70 L724.63,282.71 L725.17,282.73 L725.72,282.74 L726.27,282.75 L726.81,282.76 L727.36,282.77 L727.90,282.78 L728.45,282.79 L729.00,282.80 L729.54,282.81 L730.09,282.82 L730.64,282.83 L731.18,282.83 L731.73,282.84 L732.27,282.85 L732.82,282.86 L733.37,282.86 L733.91,282.87 L734.46,282.87 L735.01,282.88 L735.55,282.88 L736.10,282.89 L736.64,282.89 L737.19,282.90 L737.74,282.90 L738.28,282.91 L738.83,282.91 L739.38,282.92 L739.92,282.92 L740.47,282.92 L741.01,282.93 L741.56,282.93 L742.11,282.94 L742.65,282.94 L743.20,282.94 L743.75,282.95 L744.29,282.95 L744.84,282.96 L745.38,282.96 L745.93,282.96 L746.48,282.97 L747.02,282.97 L747.57,282.98 L748.12,282.98 L748.66,282.98 L749.21,282.99 L749.75,282.99 L750.30,282.99 L750.85,283.00 L751.39,283.00 L751.94,283.00 L752.49,283.01 L753.03,283.01 L753.58,283.02 L754.12,283.02 L754.67,283.02 L755.22,283.03 L755.76,283.03 L756.31,283.03 L756.86,283.04 L757.40,283.04 L757.95,283.04 L758.50,283.05 L759.04,283.05 L759.59,283.05 L760.13,283.05 L760.68,283.06 L761.23,283.06 L761.77,283.06 L762.32,283.07 L762.87,283.07 L763.41,283.07 L763.96,283.08 L764.50,283.08 L765.05,283.08 L765.60,283.09 L766.14,283.09 L766.69,283.09 L767.24,283.09 L767.78,283.10 L768.33,283.10 L768.87,283.10 L769.42,283.11 L769.97,283.11 L770.51,283.11 L771.06,283.11 L771.61,283.12 L772.15,283.12 L772.70,283.12 L773.24,283.12 L773.79,283.13 L774.34,283.13 L774.88,283.13 L775.43,283.13 L775.98,283.14 L776.52,283.14 L777.07,283.14 L777.61,283.14 L778.16,283.15 L778.71,283.15 L779.25,283.15 L779.80,283.15 L780.35,283.16 L780.89,283.16 L781.44,283.16 L781.98,283.16 L782.53,283.17 L783.08,283.17 L783.62,283.17 L784.17,283.17 L784.72,283.18 L785.26,283.18 L785.81,283.18 L786.35,283.18 L786.90,283.19 L787.45,283.19 L787.99,283.19 L788.54,283.19 L789.09,283.20 L789.63,283.20 L790.18,283.20 L790.72,283.20 L791.27,283.20 L791.82,283.21 L792.36,283.21 L792.91,283.21 L793.45,283.21 L794.00,283.22 L794.55,283.22 L795.09,283.22 L795.64,283.22 L796.19,283.22 L796.73,283.23 L797.28,283.23 L797.83,283.23 L798.37,283.23 L798.92,283.23 L799.46,283.24 L800.01,283.24 L800.56,283.24 L801.10,283.24 L801.65,283.25 L802.19,283.25 L802.74,283.25 L803.29,283.25 L803.83,283.25 L804.38,283.26 L804.93,283.26 L805.47,283.26 L806.02,283.26 L806.57,283.26 L807.11,283.27 L807.66,283.27 L808.20,283.27 L808.75,283.27" stroke="#a87cf6"/>
</g>
<path d="M722.3,30.1 H758.6" stroke="#2d3232" stroke-width="1.3"/>
<text font-family="Liberation Serif, serif" font-weight="bold" stroke="#111" stroke-width="0.25" font-size="15.8" x="762.5" y="36.4" fill="#111">0 hr</text>
<path d="M722.3,50.6 H758.6" stroke="#f2303f" stroke-width="1.3"/>
<text font-family="Liberation Serif, serif" font-weight="bold" stroke="#111" stroke-width="0.25" font-size="15.8" x="762.5" y="56.9" fill="#111">1 hr</text>
<path d="M722.3,70.9 H758.6" stroke="#3b6cf4" stroke-width="1.3"/>
<text font-family="Liberation Serif, serif" font-weight="bold" stroke="#111" stroke-width="0.25" font-size="15.8" x="762.5" y="77.2" fill="#111">2 hr</text>
<path d="M722.3,90.6 H758.6" stroke="#35dd35" stroke-width="1.3"/>
<text font-family="Liberation Serif, serif" font-weight="bold" stroke="#111" stroke-width="0.25" font-size="15.8" x="762.5" y="96.9" fill="#111">3 hr</text>
<path d="M722.3,110.6 H758.6" stroke="#a87cf6" stroke-width="1.3"/>
<text font-family="Liberation Serif, serif" font-weight="bold" stroke="#111" stroke-width="0.25" font-size="15.8" x="762.5" y="116.9" fill="#111">4 hr</text>
<path d="M212.4,371.2 H651.0 V725.4 H212.4 Z" stroke="#000" stroke-width="2.6" fill="none"/>
<path d="M208.10,725.40 H212.4 M204.10,693.20 H212.4 M208.10,661.00 H212.4 M204.10,628.80 H212.4 M208.10,596.60 H212.4 M204.10,564.40 H212.4 M208.10,532.20 H212.4 M204.10,500.00 H212.4 M208.10,467.80 H212.4 M204.10,435.60 H212.4 M208.10,403.40 H212.4 M204.10,371.20 H212.4 M212.27,725.4 V729.70 M248.20,725.4 V733.70 M284.12,725.4 V729.70 M320.05,725.4 V733.70 M355.98,725.4 V729.70 M391.90,725.4 V733.70 M427.82,725.4 V729.70 M463.75,725.4 V733.70 M499.68,725.4 V729.70 M535.60,725.4 V733.70 M571.52,725.4 V729.70 M607.45,725.4 V733.70 M643.38,725.4 V729.70" stroke="#000" stroke-width="2.6" fill="none"/>
<g font-family="Liberation Sans, sans-serif" font-size="15" fill="#111" text-anchor="end">
<text x="197.9" y="697.70">0</text>
<text x="197.9" y="633.30">2</text>
<text x="197.9" y="568.90">4</text>
<text x="197.9" y="504.50">6</text>
<text x="197.9" y="440.10">8</text>
<text x="197.9" y="375.70">10</text>
</g>
<g font-family="Liberation Sans, sans-serif" font-size="15" fill="#111" text-anchor="middle">
<text x="248.70" y="751.8">0</text>
<text x="320.55" y="751.8">50</text>
<text x="392.40" y="751.8">100</text>
<text x="464.25" y="751.8">150</text>
<text x="536.10" y="751.8">200</text>
<text x="607.95" y="751.8">250</text>
</g>
<text font-family="Liberation Serif, serif" font-weight="bold" stroke="#111" stroke-width="0.25" font-size="19.5" x="431.5" y="782.2" text-anchor="middle" fill="#111">Time(hr)</text>
<text font-family="Liberation Serif, serif" font-weight="bold" stroke="#111" stroke-width="0.25" font-size="20.3" transform="translate(172.1,548.0) rotate(-90)" text-anchor="middle" fill="#111">Percentage of degradation(%)</text>
<text font-family="Liberation Serif, serif" font-weight="bold" stroke="#111" stroke-width="0.25" font-size="19.5" x="226.5" y="403.5" fill="#111">(c)</text>
<polyline points="248.20,693.20 334.42,635.24 420.64,577.92 506.86,498.71 593.08,413.06" stroke="#354040" stroke-width="2.8" fill="none"/>
<rect x="244.40" y="689.50" width="7.6" height="7.4" fill="#354040"/>
<rect x="330.62" y="631.54" width="7.6" height="7.4" fill="#354040"/>
<rect x="416.84" y="574.22" width="7.6" height="7.4" fill="#354040"/>
<rect x="503.06" y="495.01" width="7.6" height="7.4" fill="#354040"/>
<rect x="589.28" y="409.36" width="7.6" height="7.4" fill="#354040"/>
<polyline points="248.20,693.20 334.42,646.51 420.64,639.43 506.86,560.54 593.08,538.32" stroke="#f7172f" stroke-width="2.6" fill="none"/>
<circle cx="248.20" cy="693.20" r="4.2" fill="#f7172f"/>
<circle cx="334.42" cy="646.51" r="4.2" fill="#f7172f"/>
<circle cx="420.64" cy="639.43" r="4.2" fill="#f7172f"/>
<circle cx="506.86" cy="560.54" r="4.2" fill="#f7172f"/>
<circle cx="593.08" cy="538.32" r="4.2" fill="#f7172f"/>
<path d="M490,638.5 H537" stroke="#354040" stroke-width="2.8"/>
<rect x="509.90000000000003" y="634.8" width="7.6" height="7.4" fill="#354040"/>
<path d="M490,663.6 H537" stroke="#f7172f" stroke-width="2.6"/>
<circle cx="513.7" cy="663.6" r="4.2" fill="#f7172f"/>
<text font-family="Liberation Serif, serif" font-weight="bold" stroke="#111" stroke-width="0.25" font-size="20" x="541" y="646" fill="#111">Dyphylline</text>
<text font-family="Liberation Serif, serif" font-weight="bold" stroke="#111" stroke-width="0.25" font-size="20" x="541" y="671" fill="#111">IC</text>
</svg></body></html>
